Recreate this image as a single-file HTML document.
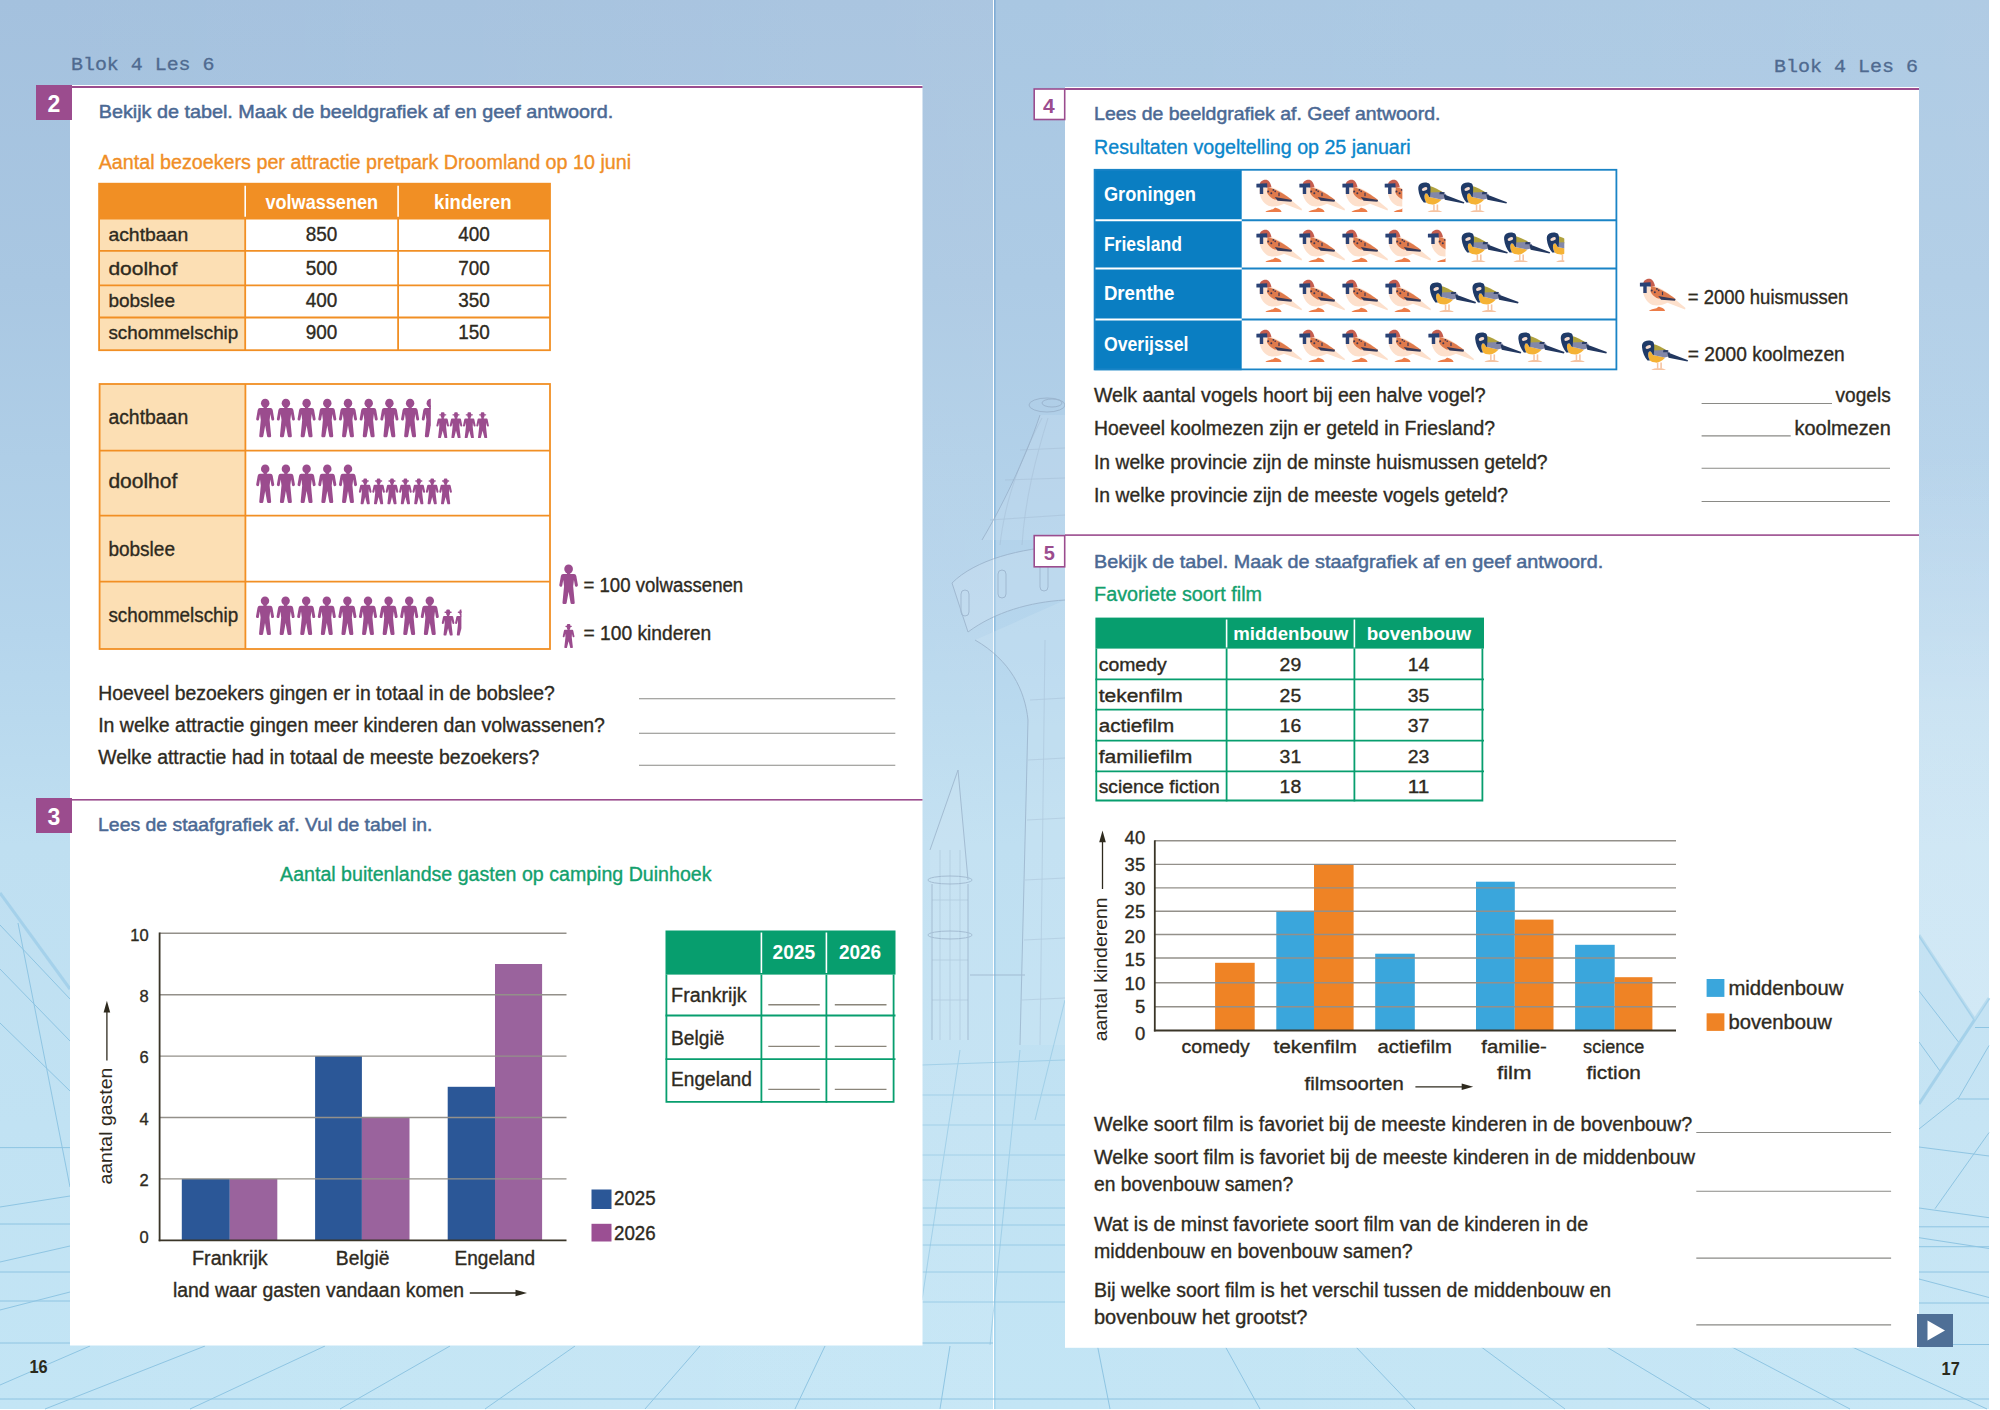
<!DOCTYPE html>
<html><head><meta charset="utf-8"><title>Blok 4 Les 6</title>
<style>html,body{margin:0;padding:0;background:#fff;width:2000px;height:1410px;overflow:hidden}
svg{display:block} text{font-family:"Liberation Sans",sans-serif} .mono{font-family:"Liberation Mono",monospace}</style>
</head><body>
<svg width="2000" height="1410" viewBox="0 0 2000 1410" font-family="Liberation Sans" fill="#2e2a1e">
<defs>
<linearGradient id="bgL" x1="0" y1="0" x2="0" y2="1">
  <stop offset="0" stop-color="#a4c1de"/><stop offset="0.2" stop-color="#a9c7e2"/><stop offset="0.45" stop-color="#b5d5ec"/><stop offset="0.6" stop-color="#bfdff1"/><stop offset="1" stop-color="#c3e5f5"/>
</linearGradient>
<linearGradient id="bgR" x1="0" y1="0" x2="0" y2="1">
  <stop offset="0" stop-color="#a9c7e2"/><stop offset="0.2" stop-color="#adcbe5"/><stop offset="0.45" stop-color="#b6d6ed"/><stop offset="0.6" stop-color="#bfdff1"/><stop offset="1" stop-color="#c3e5f5"/>
</linearGradient>
<linearGradient id="spine" x1="0" y1="0" x2="0" y2="1"><stop offset="0" stop-color="#7eabd4"/><stop offset="0.6" stop-color="#93c3e3"/><stop offset="1" stop-color="#aad8ef"/></linearGradient>
<linearGradient id="bgRx" x1="0" y1="0" x2="1" y2="0">
  <stop offset="0" stop-color="#ffffff" stop-opacity="0"/><stop offset="1" stop-color="#ffffff" stop-opacity="0.08"/>
</linearGradient>
</defs>
<rect x="0.00" y="0.00" width="993.00" height="1409.00" fill="url(#bgL)"/>
<rect x="994.00" y="0.00" width="995.00" height="1409.00" fill="url(#bgR)"/>
<rect x="0.00" y="0.00" width="993.00" height="1409.00" fill="url(#bgRx)"/>
<rect x="994.00" y="0.00" width="995.00" height="1409.00" fill="url(#bgRx)"/>
<rect x="994.00" y="0.00" width="1.60" height="1409.00" fill="url(#spine)"/>
<line x1="922.50" y1="1208.00" x2="1065.00" y2="1208.00" stroke="#8cc4e2" stroke-width="1" opacity="0.75"/>
<line x1="922.50" y1="1225.00" x2="1065.00" y2="1225.00" stroke="#8cc4e2" stroke-width="1" opacity="0.75"/>
<line x1="922.50" y1="1245.00" x2="1065.00" y2="1245.00" stroke="#8cc4e2" stroke-width="1" opacity="0.75"/>
<line x1="922.50" y1="1272.00" x2="1065.00" y2="1272.00" stroke="#8cc4e2" stroke-width="1" opacity="0.75"/>
<line x1="922.50" y1="1302.00" x2="1065.00" y2="1302.00" stroke="#8cc4e2" stroke-width="1" opacity="0.75"/>
<g stroke="#86c0e0" stroke-width="1" fill="none" opacity="0.85">
<line x1="0" y1="925" x2="70" y2="999"/>
<line x1="0" y1="969" x2="70" y2="1041"/>
<line x1="0" y1="1023" x2="70" y2="1091"/>
<line x1="0" y1="1147.6" x2="70" y2="1147.6"/>
<line x1="0" y1="1207" x2="70" y2="1196"/>
<line x1="0" y1="1224" x2="70" y2="1224"/>
<line x1="0" y1="1262" x2="70" y2="1246"/>
<line x1="0" y1="1272" x2="70" y2="1272"/>
<line x1="0" y1="1310" x2="70" y2="1292"/>
<line x1="0" y1="1301" x2="70" y2="1301"/>
<line x1="0" y1="1343" x2="993" y2="1343"/>
<line x1="0" y1="1399" x2="1989" y2="1399"/>
<line x1="18" y1="923" x2="70" y2="1187"/>
<line x1="90" y1="1346" x2="0" y2="1385"/>
<line x1="205" y1="1346" x2="45" y2="1409"/>
<line x1="325" y1="1346" x2="190" y2="1409"/>
<line x1="450" y1="1346" x2="340" y2="1409"/>
<line x1="575" y1="1346" x2="485" y2="1409"/>
<line x1="700" y1="1346" x2="645" y2="1409"/>
<line x1="825" y1="1346" x2="795" y2="1409"/>
<line x1="950" y1="1346" x2="940" y2="1409"/>
<line x1="1097.5" y1="1346" x2="1110" y2="1409"/>
<line x1="1225" y1="1346" x2="1260" y2="1409"/>
<line x1="1355" y1="1346" x2="1415" y2="1409"/>
<line x1="1480" y1="1346" x2="1565" y2="1409"/>
<line x1="1605" y1="1346" x2="1710" y2="1409"/>
<line x1="1730" y1="1346" x2="1850" y2="1409"/>
<line x1="1850" y1="1346" x2="1987" y2="1409"/>
<line x1="1919" y1="991" x2="1958.5" y2="1042"/>
<line x1="1919" y1="1042" x2="1940" y2="1071"/>
<line x1="1975" y1="1027.5" x2="1989" y2="1027.5"/>
<line x1="1919" y1="1129" x2="1958" y2="1098"/>
<line x1="1958" y1="1099" x2="1989" y2="1099"/>
<line x1="1958" y1="1099" x2="1989" y2="1045.6"/>
<line x1="1919" y1="1147" x2="1989" y2="1156"/>
<line x1="1935" y1="1208.7" x2="1989" y2="1132.6"/>
<line x1="1919" y1="1208" x2="1989" y2="1217.7"/>
<line x1="1919" y1="1226.8" x2="1989" y2="1226.8"/>
<line x1="1919" y1="1237.7" x2="1989" y2="1248.5"/>
<line x1="1919" y1="1246.7" x2="1989" y2="1246.7"/>
<line x1="1919" y1="1272" x2="1989" y2="1272"/>
<line x1="1919" y1="1279" x2="1989" y2="1297.5"/>
<line x1="1919" y1="1303" x2="1989" y2="1303"/>
<line x1="1919" y1="1344.5" x2="1989" y2="1344.5"/>
</g>
<g stroke="#9dcde8" stroke-width="3" fill="none" opacity="0.8"><line x1="0" y1="893" x2="70" y2="989"/><line x1="1919" y1="935" x2="1975" y2="1020"/><line x1="1919" y1="1104" x2="1989" y2="998"/></g>
<linearGradient id="rm" x1="0" y1="0" x2="0" y2="1"><stop offset="0" stop-color="#fff" stop-opacity="0"/><stop offset="0.45" stop-color="#fff" stop-opacity="0.2"/><stop offset="1" stop-color="#fff" stop-opacity="0.22"/></linearGradient>
<path d="M1919 450 L1989 450 L1989 998 L1975 1020 L1919 935 Z" fill="url(#rm)"/>
<path d="M0 850 L0 893 L70 989 L70 850 Z" fill="#ffffff" opacity="0.0"/>
<g opacity="0.5"><path d="M1040 415 C1025 460 1000 510 982 540 L1065 540 L1065 415 Z" fill="#d2e4f3" opacity="0.5"/><path d="M952 583 C975 560 1020 548 1065 546 L1065 600 C1030 602 995 612 968 632 Z" fill="#d2e4f3" opacity="0.6"/><path d="M975 640 C1010 660 1025 690 1028 720 L1020 1045 L1065 1045 L1065 600 Z" fill="#d6e9f5" opacity="0.5"/><path d="M930 850 L958 770 L968 880 L968 1040 L932 1040 Z" fill="#d6e9f5" opacity="0.4"/></g>
<g fill="none" stroke="#8ea5bf" stroke-width="1" opacity="0.6"><ellipse cx="1047" cy="405" rx="18" ry="7"/><ellipse cx="1052" cy="403" rx="10" ry="4"/><path d="M1040 415 C1025 460 1000 510 982 540"/><path d="M952 583 C975 560 1020 548 1065 546"/><path d="M968 632 C995 612 1030 602 1065 600"/><path d="M952 583 L968 632"/><rect x="961" y="590" width="8" height="26" rx="4"/><rect x="998" y="570" width="8" height="28" rx="4"/><rect x="1040" y="563" width="8" height="28" rx="4"/><path d="M975 640 C1010 660 1025 690 1028 720 L1020 1045"/><path d="M958 770 L930 850"/><path d="M958 770 L968 880"/><ellipse cx="950" cy="880" rx="22" ry="4"/><ellipse cx="950" cy="935" rx="22" ry="4"/><path d="M932 884 L932 1040"/><path d="M968 884 L968 1040"/><path d="M970 975 L1025 975"/></g>
<g fill="none" stroke="#9cb3cb" stroke-width="0.7" opacity="0.5"><path d="M1000 545 C1005 500 1020 460 1042 418"/><path d="M1022 545 C1025 500 1035 460 1048 418"/><path d="M990 520 L1065 515"/><path d="M1005 480 L1065 478"/><path d="M1020 450 L1065 448"/><path d="M1030 700 L1065 698"/><path d="M1028 760 L1065 758"/><path d="M1027 820 L1065 818"/><path d="M1025 880 L1065 878"/><path d="M1024 940 L1065 938"/><path d="M1022 1000 L1065 998"/><path d="M1045 640 L1040 1045"/><path d="M940 850 L940 1040"/><path d="M950 850 L950 1040"/><path d="M960 850 L960 1040"/><path d="M932 900 L968 900"/><path d="M932 960 L968 960"/><path d="M932 1000 L968 1000"/></g>
<g stroke="#8cc4e2" stroke-width="1" opacity="0.6"><line x1="922" y1="1065" x2="1065" y2="1060"/><line x1="922" y1="1095" x2="1065" y2="1095"/><line x1="922" y1="1125" x2="1065" y2="1125"/><line x1="922" y1="1155" x2="1065" y2="1155"/><line x1="922" y1="1180" x2="1065" y2="1180"/><line x1="960" y1="1050" x2="922" y2="1300"/><line x1="1020" y1="1050" x2="990" y2="1345"/><line x1="1065" y1="1000" x2="1035" y2="1120"/></g>
<rect x="70.00" y="85.00" width="852.50" height="1260.50" fill="#fff"/>
<rect x="1065.00" y="87.00" width="854.00" height="1260.80" fill="#fff"/>
<rect x="70.00" y="86.00" width="852.50" height="2.00" fill="#9b4c8e"/>
<rect x="70.00" y="799.00" width="852.50" height="1.60" fill="#9b4c8e"/>
<rect x="1065.00" y="88.00" width="854.00" height="2.00" fill="#9b4c8e"/>
<rect x="1065.00" y="534.30" width="854.00" height="1.60" fill="#9b4c8e"/>
<rect x="36.00" y="85.00" width="36.00" height="35.00" fill="#9b4c8e"/>
<rect x="36.00" y="798.00" width="36.00" height="35.00" fill="#9b4c8e"/>
<text x="54.00" y="112.00" font-size="23" fill="#fff" font-weight="bold" text-anchor="middle">2</text>
<text x="54.00" y="825.00" font-size="23" fill="#fff" font-weight="bold" text-anchor="middle">3</text>
<rect x="1034.2" y="89" width="30.5" height="30.5" fill="#fff" stroke="#9b4c8e" stroke-width="1.6"/>
<rect x="1034.2" y="535.6" width="30.5" height="31.2" fill="#fff" stroke="#9b4c8e" stroke-width="1.6"/>
<text x="1048.80" y="113.20" font-size="21" fill="#9b4c8e" font-weight="bold" text-anchor="middle">4</text>
<text x="1049.30" y="560.00" font-size="20" fill="#9b4c8e" font-weight="bold" text-anchor="middle">5</text>
<text x="71.00" y="70.00" font-size="19" fill="#4f6a90" font-family="Liberation Mono" stroke="#4f6a90" stroke-width="0.3" textLength="143.50" lengthAdjust="spacingAndGlyphs" class="mono">Blok 4 Les 6</text>
<text x="1774.00" y="72.30" font-size="19" fill="#4f6a90" font-family="Liberation Mono" stroke="#4f6a90" stroke-width="0.3" textLength="144.00" lengthAdjust="spacingAndGlyphs" class="mono">Blok 4 Les 6</text>
<text x="29.40" y="1373.00" font-size="18" fill="#2a2a1c" font-weight="bold" textLength="18.20" lengthAdjust="spacingAndGlyphs">16</text>
<text x="1941.60" y="1375.00" font-size="18" fill="#2a2a1c" font-weight="bold" textLength="18.10" lengthAdjust="spacingAndGlyphs">17</text>
<rect x="1917.00" y="1314.00" width="36.00" height="33.00" fill="#4f6f96"/>
<path d="M1927.5 1320.5 L1945 1330.5 L1927.5 1340.5 Z" fill="#fff"/>
<text x="98.70" y="118.40" font-size="19" fill="#4b6994" stroke="#4b6994" stroke-width="0.5" textLength="514.50" lengthAdjust="spacingAndGlyphs">Bekijk de tabel. Maak de beeldgrafiek af en geef antwoord.</text>
<text x="98.70" y="168.70" font-size="19.5" fill="#f08e26" stroke="#f08e26" stroke-width="0.35" textLength="532.40" lengthAdjust="spacingAndGlyphs">Aantal bezoekers per attractie pretpark Droomland op 10 juni</text>
<rect x="99.10" y="183.70" width="450.90" height="34.90" fill="#f18f24"/>
<rect x="99.10" y="218.60" width="146.10" height="131.60" fill="#fcdfb4"/>
<line x1="99.10" y1="218.60" x2="550.00" y2="218.60" stroke="#f18f24" stroke-width="1.8"/>
<line x1="99.10" y1="250.80" x2="550.00" y2="250.80" stroke="#f18f24" stroke-width="1.8"/>
<line x1="99.10" y1="285.30" x2="550.00" y2="285.30" stroke="#f18f24" stroke-width="1.8"/>
<line x1="99.10" y1="317.50" x2="550.00" y2="317.50" stroke="#f18f24" stroke-width="1.8"/>
<line x1="245.20" y1="218.60" x2="245.20" y2="350.20" stroke="#f18f24" stroke-width="1.8"/>
<line x1="398.10" y1="218.60" x2="398.10" y2="350.20" stroke="#f18f24" stroke-width="1.8"/>
<line x1="245.20" y1="185.80" x2="245.20" y2="216.80" stroke="#fff" stroke-width="1.6"/>
<line x1="398.10" y1="185.80" x2="398.10" y2="216.80" stroke="#fff" stroke-width="1.6"/>
<rect x="99.1" y="183.7" width="450.9" height="166.5" fill="none" stroke="#f18f24" stroke-width="1.8"/>
<text x="265.40" y="208.70" font-size="19.5" fill="#fff" font-weight="bold" textLength="112.70" lengthAdjust="spacingAndGlyphs">volwassenen</text>
<text x="434.10" y="208.70" font-size="19.5" fill="#fff" font-weight="bold" textLength="77.40" lengthAdjust="spacingAndGlyphs">kinderen</text>
<text x="108.40" y="241.00" font-size="19" stroke="#2e2a1e" stroke-width="0.35" textLength="79.80" lengthAdjust="spacingAndGlyphs">achtbaan</text>
<text x="305.70" y="241.00" font-size="19.5" stroke="#2e2a1e" stroke-width="0.35" textLength="31.60" lengthAdjust="spacingAndGlyphs">850</text>
<text x="458.20" y="241.00" font-size="19.5" stroke="#2e2a1e" stroke-width="0.35" textLength="31.60" lengthAdjust="spacingAndGlyphs">400</text>
<text x="108.40" y="274.80" font-size="19" stroke="#2e2a1e" stroke-width="0.35" textLength="68.90" lengthAdjust="spacingAndGlyphs">doolhof</text>
<text x="305.70" y="274.80" font-size="19.5" stroke="#2e2a1e" stroke-width="0.35" textLength="31.60" lengthAdjust="spacingAndGlyphs">500</text>
<text x="458.20" y="274.80" font-size="19.5" stroke="#2e2a1e" stroke-width="0.35" textLength="31.60" lengthAdjust="spacingAndGlyphs">700</text>
<text x="108.40" y="307.20" font-size="19" stroke="#2e2a1e" stroke-width="0.35" textLength="66.60" lengthAdjust="spacingAndGlyphs">bobslee</text>
<text x="305.70" y="307.20" font-size="19.5" stroke="#2e2a1e" stroke-width="0.35" textLength="31.60" lengthAdjust="spacingAndGlyphs">400</text>
<text x="458.20" y="307.20" font-size="19.5" stroke="#2e2a1e" stroke-width="0.35" textLength="31.60" lengthAdjust="spacingAndGlyphs">350</text>
<text x="108.40" y="339.40" font-size="19" stroke="#2e2a1e" stroke-width="0.35" textLength="129.90" lengthAdjust="spacingAndGlyphs">schommelschip</text>
<text x="305.70" y="339.40" font-size="19.5" stroke="#2e2a1e" stroke-width="0.35" textLength="31.60" lengthAdjust="spacingAndGlyphs">900</text>
<text x="458.20" y="339.40" font-size="19.5" stroke="#2e2a1e" stroke-width="0.35" textLength="31.60" lengthAdjust="spacingAndGlyphs">150</text>
<defs>
<clipPath id="lefthalf"><rect x="-20" y="-5" width="20" height="50"/></clipPath>
</defs>
<rect x="99.60" y="384.00" width="145.80" height="265.00" fill="#fcdfb4"/>
<line x1="99.60" y1="450.60" x2="550.00" y2="450.60" stroke="#f18f24" stroke-width="1.8"/>
<line x1="99.60" y1="515.70" x2="550.00" y2="515.70" stroke="#f18f24" stroke-width="1.8"/>
<line x1="99.60" y1="581.60" x2="550.00" y2="581.60" stroke="#f18f24" stroke-width="1.8"/>
<line x1="245.40" y1="384.00" x2="245.40" y2="649.00" stroke="#f18f24" stroke-width="1.8"/>
<rect x="99.6" y="384" width="450.4" height="265" fill="none" stroke="#f18f24" stroke-width="1.8"/>
<text x="108.40" y="423.70" font-size="19.5" stroke="#2e2a1e" stroke-width="0.35" textLength="79.80" lengthAdjust="spacingAndGlyphs">achtbaan</text>
<text x="108.40" y="488.10" font-size="19.5" stroke="#2e2a1e" stroke-width="0.35" textLength="68.90" lengthAdjust="spacingAndGlyphs">doolhof</text>
<text x="108.40" y="555.50" font-size="19.5" stroke="#2e2a1e" stroke-width="0.35" textLength="66.60" lengthAdjust="spacingAndGlyphs">bobslee</text>
<text x="108.40" y="622.20" font-size="19.5" stroke="#2e2a1e" stroke-width="0.35" textLength="129.90" lengthAdjust="spacingAndGlyphs">schommelschip</text>
<g transform="translate(265.20,398.90) scale(0.960,1.000)" fill="#9b4c8e"><g><circle cx="0" cy="4.3" r="4.4"/>
<rect x="-1.7" y="6.5" width="3.4" height="3.5"/>
<path d="M-5.6 9.2 L5.6 9.2 Q7.4 9.4 7.8 11.2 L9.4 20 Q9.5 21.3 8.3 21.5 L7.6 21.6 Q6.6 21.6 6.4 20.4 L5.4 15 L4.6 21 L6.2 37.2 Q6.2 38.4 5 38.4 L3.2 38.4 Q2.2 38.4 2 37.4 L0 26.5 L-2 37.4 Q-2.2 38.4 -3.2 38.4 L-5 38.4 Q-6.2 38.4 -6.2 37.2 L-4.6 21 L-5.4 15 L-6.4 20.4 Q-6.6 21.6 -7.6 21.6 L-8.3 21.5 Q-9.5 21.3 -9.4 20 L-7.8 11.2 Q-7.4 9.4 -5.6 9.2 Z"/></g></g>
<g transform="translate(285.90,398.90) scale(0.960,1.000)" fill="#9b4c8e"><g><circle cx="0" cy="4.3" r="4.4"/>
<rect x="-1.7" y="6.5" width="3.4" height="3.5"/>
<path d="M-5.6 9.2 L5.6 9.2 Q7.4 9.4 7.8 11.2 L9.4 20 Q9.5 21.3 8.3 21.5 L7.6 21.6 Q6.6 21.6 6.4 20.4 L5.4 15 L4.6 21 L6.2 37.2 Q6.2 38.4 5 38.4 L3.2 38.4 Q2.2 38.4 2 37.4 L0 26.5 L-2 37.4 Q-2.2 38.4 -3.2 38.4 L-5 38.4 Q-6.2 38.4 -6.2 37.2 L-4.6 21 L-5.4 15 L-6.4 20.4 Q-6.6 21.6 -7.6 21.6 L-8.3 21.5 Q-9.5 21.3 -9.4 20 L-7.8 11.2 Q-7.4 9.4 -5.6 9.2 Z"/></g></g>
<g transform="translate(306.60,398.90) scale(0.960,1.000)" fill="#9b4c8e"><g><circle cx="0" cy="4.3" r="4.4"/>
<rect x="-1.7" y="6.5" width="3.4" height="3.5"/>
<path d="M-5.6 9.2 L5.6 9.2 Q7.4 9.4 7.8 11.2 L9.4 20 Q9.5 21.3 8.3 21.5 L7.6 21.6 Q6.6 21.6 6.4 20.4 L5.4 15 L4.6 21 L6.2 37.2 Q6.2 38.4 5 38.4 L3.2 38.4 Q2.2 38.4 2 37.4 L0 26.5 L-2 37.4 Q-2.2 38.4 -3.2 38.4 L-5 38.4 Q-6.2 38.4 -6.2 37.2 L-4.6 21 L-5.4 15 L-6.4 20.4 Q-6.6 21.6 -7.6 21.6 L-8.3 21.5 Q-9.5 21.3 -9.4 20 L-7.8 11.2 Q-7.4 9.4 -5.6 9.2 Z"/></g></g>
<g transform="translate(327.30,398.90) scale(0.960,1.000)" fill="#9b4c8e"><g><circle cx="0" cy="4.3" r="4.4"/>
<rect x="-1.7" y="6.5" width="3.4" height="3.5"/>
<path d="M-5.6 9.2 L5.6 9.2 Q7.4 9.4 7.8 11.2 L9.4 20 Q9.5 21.3 8.3 21.5 L7.6 21.6 Q6.6 21.6 6.4 20.4 L5.4 15 L4.6 21 L6.2 37.2 Q6.2 38.4 5 38.4 L3.2 38.4 Q2.2 38.4 2 37.4 L0 26.5 L-2 37.4 Q-2.2 38.4 -3.2 38.4 L-5 38.4 Q-6.2 38.4 -6.2 37.2 L-4.6 21 L-5.4 15 L-6.4 20.4 Q-6.6 21.6 -7.6 21.6 L-8.3 21.5 Q-9.5 21.3 -9.4 20 L-7.8 11.2 Q-7.4 9.4 -5.6 9.2 Z"/></g></g>
<g transform="translate(348.00,398.90) scale(0.960,1.000)" fill="#9b4c8e"><g><circle cx="0" cy="4.3" r="4.4"/>
<rect x="-1.7" y="6.5" width="3.4" height="3.5"/>
<path d="M-5.6 9.2 L5.6 9.2 Q7.4 9.4 7.8 11.2 L9.4 20 Q9.5 21.3 8.3 21.5 L7.6 21.6 Q6.6 21.6 6.4 20.4 L5.4 15 L4.6 21 L6.2 37.2 Q6.2 38.4 5 38.4 L3.2 38.4 Q2.2 38.4 2 37.4 L0 26.5 L-2 37.4 Q-2.2 38.4 -3.2 38.4 L-5 38.4 Q-6.2 38.4 -6.2 37.2 L-4.6 21 L-5.4 15 L-6.4 20.4 Q-6.6 21.6 -7.6 21.6 L-8.3 21.5 Q-9.5 21.3 -9.4 20 L-7.8 11.2 Q-7.4 9.4 -5.6 9.2 Z"/></g></g>
<g transform="translate(368.70,398.90) scale(0.960,1.000)" fill="#9b4c8e"><g><circle cx="0" cy="4.3" r="4.4"/>
<rect x="-1.7" y="6.5" width="3.4" height="3.5"/>
<path d="M-5.6 9.2 L5.6 9.2 Q7.4 9.4 7.8 11.2 L9.4 20 Q9.5 21.3 8.3 21.5 L7.6 21.6 Q6.6 21.6 6.4 20.4 L5.4 15 L4.6 21 L6.2 37.2 Q6.2 38.4 5 38.4 L3.2 38.4 Q2.2 38.4 2 37.4 L0 26.5 L-2 37.4 Q-2.2 38.4 -3.2 38.4 L-5 38.4 Q-6.2 38.4 -6.2 37.2 L-4.6 21 L-5.4 15 L-6.4 20.4 Q-6.6 21.6 -7.6 21.6 L-8.3 21.5 Q-9.5 21.3 -9.4 20 L-7.8 11.2 Q-7.4 9.4 -5.6 9.2 Z"/></g></g>
<g transform="translate(389.40,398.90) scale(0.960,1.000)" fill="#9b4c8e"><g><circle cx="0" cy="4.3" r="4.4"/>
<rect x="-1.7" y="6.5" width="3.4" height="3.5"/>
<path d="M-5.6 9.2 L5.6 9.2 Q7.4 9.4 7.8 11.2 L9.4 20 Q9.5 21.3 8.3 21.5 L7.6 21.6 Q6.6 21.6 6.4 20.4 L5.4 15 L4.6 21 L6.2 37.2 Q6.2 38.4 5 38.4 L3.2 38.4 Q2.2 38.4 2 37.4 L0 26.5 L-2 37.4 Q-2.2 38.4 -3.2 38.4 L-5 38.4 Q-6.2 38.4 -6.2 37.2 L-4.6 21 L-5.4 15 L-6.4 20.4 Q-6.6 21.6 -7.6 21.6 L-8.3 21.5 Q-9.5 21.3 -9.4 20 L-7.8 11.2 Q-7.4 9.4 -5.6 9.2 Z"/></g></g>
<g transform="translate(410.10,398.90) scale(0.960,1.000)" fill="#9b4c8e"><g><circle cx="0" cy="4.3" r="4.4"/>
<rect x="-1.7" y="6.5" width="3.4" height="3.5"/>
<path d="M-5.6 9.2 L5.6 9.2 Q7.4 9.4 7.8 11.2 L9.4 20 Q9.5 21.3 8.3 21.5 L7.6 21.6 Q6.6 21.6 6.4 20.4 L5.4 15 L4.6 21 L6.2 37.2 Q6.2 38.4 5 38.4 L3.2 38.4 Q2.2 38.4 2 37.4 L0 26.5 L-2 37.4 Q-2.2 38.4 -3.2 38.4 L-5 38.4 Q-6.2 38.4 -6.2 37.2 L-4.6 21 L-5.4 15 L-6.4 20.4 Q-6.6 21.6 -7.6 21.6 L-8.3 21.5 Q-9.5 21.3 -9.4 20 L-7.8 11.2 Q-7.4 9.4 -5.6 9.2 Z"/></g></g>
<g transform="translate(430.80,398.90) scale(0.960,1.000)" fill="#9b4c8e"><g clip-path="url(#lefthalf)"><circle cx="0" cy="4.3" r="4.4"/>
<rect x="-1.7" y="6.5" width="3.4" height="3.5"/>
<path d="M-5.6 9.2 L5.6 9.2 Q7.4 9.4 7.8 11.2 L9.4 20 Q9.5 21.3 8.3 21.5 L7.6 21.6 Q6.6 21.6 6.4 20.4 L5.4 15 L4.6 21 L6.2 37.2 Q6.2 38.4 5 38.4 L3.2 38.4 Q2.2 38.4 2 37.4 L0 26.5 L-2 37.4 Q-2.2 38.4 -3.2 38.4 L-5 38.4 Q-6.2 38.4 -6.2 37.2 L-4.6 21 L-5.4 15 L-6.4 20.4 Q-6.6 21.6 -7.6 21.6 L-8.3 21.5 Q-9.5 21.3 -9.4 20 L-7.8 11.2 Q-7.4 9.4 -5.6 9.2 Z"/></g></g>
<g transform="translate(442.70,412.20) scale(1.000)" fill="#9b4c8e"><g><rect x="-1.8" y="0" width="3.6" height="2.8" rx="1"/>
<ellipse cx="0" cy="2.6" rx="3.7" ry="0.9"/>
<circle cx="0" cy="3.9" r="2.0"/>
<rect x="-1.2" y="5" width="2.4" height="2"/>
<path d="M-4 6.4 L4 6.4 Q4.9 6.5 5.1 7.5 L6.3 13.2 Q6.4 14.2 5.6 14.3 L5 14.3 Q4.5 14.3 4.3 13.6 L3.6 10.5 L3.4 14.5 L4.6 25.2 Q4.6 25.9 3.9 25.9 L2.4 25.9 Q1.8 25.9 1.7 25.3 L0 18.6 L-1.7 25.3 Q-1.8 25.9 -2.4 25.9 L-3.9 25.9 Q-4.6 25.9 -4.6 25.2 L-3.4 14.5 L-3.6 10.5 L-4.3 13.6 Q-4.5 14.3 -5 14.3 L-5.6 14.3 Q-6.4 14.2 -6.3 13.2 L-5.1 7.5 Q-4.9 6.5 -4 6.4 Z"/></g></g>
<g transform="translate(456.00,412.20) scale(1.000)" fill="#9b4c8e"><g><rect x="-1.8" y="0" width="3.6" height="2.8" rx="1"/>
<ellipse cx="0" cy="2.6" rx="3.7" ry="0.9"/>
<circle cx="0" cy="3.9" r="2.0"/>
<rect x="-1.2" y="5" width="2.4" height="2"/>
<path d="M-4 6.4 L4 6.4 Q4.9 6.5 5.1 7.5 L6.3 13.2 Q6.4 14.2 5.6 14.3 L5 14.3 Q4.5 14.3 4.3 13.6 L3.6 10.5 L3.4 14.5 L4.6 25.2 Q4.6 25.9 3.9 25.9 L2.4 25.9 Q1.8 25.9 1.7 25.3 L0 18.6 L-1.7 25.3 Q-1.8 25.9 -2.4 25.9 L-3.9 25.9 Q-4.6 25.9 -4.6 25.2 L-3.4 14.5 L-3.6 10.5 L-4.3 13.6 Q-4.5 14.3 -5 14.3 L-5.6 14.3 Q-6.4 14.2 -6.3 13.2 L-5.1 7.5 Q-4.9 6.5 -4 6.4 Z"/></g></g>
<g transform="translate(469.30,412.20) scale(1.000)" fill="#9b4c8e"><g><rect x="-1.8" y="0" width="3.6" height="2.8" rx="1"/>
<ellipse cx="0" cy="2.6" rx="3.7" ry="0.9"/>
<circle cx="0" cy="3.9" r="2.0"/>
<rect x="-1.2" y="5" width="2.4" height="2"/>
<path d="M-4 6.4 L4 6.4 Q4.9 6.5 5.1 7.5 L6.3 13.2 Q6.4 14.2 5.6 14.3 L5 14.3 Q4.5 14.3 4.3 13.6 L3.6 10.5 L3.4 14.5 L4.6 25.2 Q4.6 25.9 3.9 25.9 L2.4 25.9 Q1.8 25.9 1.7 25.3 L0 18.6 L-1.7 25.3 Q-1.8 25.9 -2.4 25.9 L-3.9 25.9 Q-4.6 25.9 -4.6 25.2 L-3.4 14.5 L-3.6 10.5 L-4.3 13.6 Q-4.5 14.3 -5 14.3 L-5.6 14.3 Q-6.4 14.2 -6.3 13.2 L-5.1 7.5 Q-4.9 6.5 -4 6.4 Z"/></g></g>
<g transform="translate(482.60,412.20) scale(1.000)" fill="#9b4c8e"><g><rect x="-1.8" y="0" width="3.6" height="2.8" rx="1"/>
<ellipse cx="0" cy="2.6" rx="3.7" ry="0.9"/>
<circle cx="0" cy="3.9" r="2.0"/>
<rect x="-1.2" y="5" width="2.4" height="2"/>
<path d="M-4 6.4 L4 6.4 Q4.9 6.5 5.1 7.5 L6.3 13.2 Q6.4 14.2 5.6 14.3 L5 14.3 Q4.5 14.3 4.3 13.6 L3.6 10.5 L3.4 14.5 L4.6 25.2 Q4.6 25.9 3.9 25.9 L2.4 25.9 Q1.8 25.9 1.7 25.3 L0 18.6 L-1.7 25.3 Q-1.8 25.9 -2.4 25.9 L-3.9 25.9 Q-4.6 25.9 -4.6 25.2 L-3.4 14.5 L-3.6 10.5 L-4.3 13.6 Q-4.5 14.3 -5 14.3 L-5.6 14.3 Q-6.4 14.2 -6.3 13.2 L-5.1 7.5 Q-4.9 6.5 -4 6.4 Z"/></g></g>
<g transform="translate(265.20,464.60) scale(0.960,1.000)" fill="#9b4c8e"><g><circle cx="0" cy="4.3" r="4.4"/>
<rect x="-1.7" y="6.5" width="3.4" height="3.5"/>
<path d="M-5.6 9.2 L5.6 9.2 Q7.4 9.4 7.8 11.2 L9.4 20 Q9.5 21.3 8.3 21.5 L7.6 21.6 Q6.6 21.6 6.4 20.4 L5.4 15 L4.6 21 L6.2 37.2 Q6.2 38.4 5 38.4 L3.2 38.4 Q2.2 38.4 2 37.4 L0 26.5 L-2 37.4 Q-2.2 38.4 -3.2 38.4 L-5 38.4 Q-6.2 38.4 -6.2 37.2 L-4.6 21 L-5.4 15 L-6.4 20.4 Q-6.6 21.6 -7.6 21.6 L-8.3 21.5 Q-9.5 21.3 -9.4 20 L-7.8 11.2 Q-7.4 9.4 -5.6 9.2 Z"/></g></g>
<g transform="translate(285.90,464.60) scale(0.960,1.000)" fill="#9b4c8e"><g><circle cx="0" cy="4.3" r="4.4"/>
<rect x="-1.7" y="6.5" width="3.4" height="3.5"/>
<path d="M-5.6 9.2 L5.6 9.2 Q7.4 9.4 7.8 11.2 L9.4 20 Q9.5 21.3 8.3 21.5 L7.6 21.6 Q6.6 21.6 6.4 20.4 L5.4 15 L4.6 21 L6.2 37.2 Q6.2 38.4 5 38.4 L3.2 38.4 Q2.2 38.4 2 37.4 L0 26.5 L-2 37.4 Q-2.2 38.4 -3.2 38.4 L-5 38.4 Q-6.2 38.4 -6.2 37.2 L-4.6 21 L-5.4 15 L-6.4 20.4 Q-6.6 21.6 -7.6 21.6 L-8.3 21.5 Q-9.5 21.3 -9.4 20 L-7.8 11.2 Q-7.4 9.4 -5.6 9.2 Z"/></g></g>
<g transform="translate(306.60,464.60) scale(0.960,1.000)" fill="#9b4c8e"><g><circle cx="0" cy="4.3" r="4.4"/>
<rect x="-1.7" y="6.5" width="3.4" height="3.5"/>
<path d="M-5.6 9.2 L5.6 9.2 Q7.4 9.4 7.8 11.2 L9.4 20 Q9.5 21.3 8.3 21.5 L7.6 21.6 Q6.6 21.6 6.4 20.4 L5.4 15 L4.6 21 L6.2 37.2 Q6.2 38.4 5 38.4 L3.2 38.4 Q2.2 38.4 2 37.4 L0 26.5 L-2 37.4 Q-2.2 38.4 -3.2 38.4 L-5 38.4 Q-6.2 38.4 -6.2 37.2 L-4.6 21 L-5.4 15 L-6.4 20.4 Q-6.6 21.6 -7.6 21.6 L-8.3 21.5 Q-9.5 21.3 -9.4 20 L-7.8 11.2 Q-7.4 9.4 -5.6 9.2 Z"/></g></g>
<g transform="translate(327.30,464.60) scale(0.960,1.000)" fill="#9b4c8e"><g><circle cx="0" cy="4.3" r="4.4"/>
<rect x="-1.7" y="6.5" width="3.4" height="3.5"/>
<path d="M-5.6 9.2 L5.6 9.2 Q7.4 9.4 7.8 11.2 L9.4 20 Q9.5 21.3 8.3 21.5 L7.6 21.6 Q6.6 21.6 6.4 20.4 L5.4 15 L4.6 21 L6.2 37.2 Q6.2 38.4 5 38.4 L3.2 38.4 Q2.2 38.4 2 37.4 L0 26.5 L-2 37.4 Q-2.2 38.4 -3.2 38.4 L-5 38.4 Q-6.2 38.4 -6.2 37.2 L-4.6 21 L-5.4 15 L-6.4 20.4 Q-6.6 21.6 -7.6 21.6 L-8.3 21.5 Q-9.5 21.3 -9.4 20 L-7.8 11.2 Q-7.4 9.4 -5.6 9.2 Z"/></g></g>
<g transform="translate(348.00,464.60) scale(0.960,1.000)" fill="#9b4c8e"><g><circle cx="0" cy="4.3" r="4.4"/>
<rect x="-1.7" y="6.5" width="3.4" height="3.5"/>
<path d="M-5.6 9.2 L5.6 9.2 Q7.4 9.4 7.8 11.2 L9.4 20 Q9.5 21.3 8.3 21.5 L7.6 21.6 Q6.6 21.6 6.4 20.4 L5.4 15 L4.6 21 L6.2 37.2 Q6.2 38.4 5 38.4 L3.2 38.4 Q2.2 38.4 2 37.4 L0 26.5 L-2 37.4 Q-2.2 38.4 -3.2 38.4 L-5 38.4 Q-6.2 38.4 -6.2 37.2 L-4.6 21 L-5.4 15 L-6.4 20.4 Q-6.6 21.6 -7.6 21.6 L-8.3 21.5 Q-9.5 21.3 -9.4 20 L-7.8 11.2 Q-7.4 9.4 -5.6 9.2 Z"/></g></g>
<g transform="translate(365.20,478.40) scale(1.000)" fill="#9b4c8e"><g><rect x="-1.8" y="0" width="3.6" height="2.8" rx="1"/>
<ellipse cx="0" cy="2.6" rx="3.7" ry="0.9"/>
<circle cx="0" cy="3.9" r="2.0"/>
<rect x="-1.2" y="5" width="2.4" height="2"/>
<path d="M-4 6.4 L4 6.4 Q4.9 6.5 5.1 7.5 L6.3 13.2 Q6.4 14.2 5.6 14.3 L5 14.3 Q4.5 14.3 4.3 13.6 L3.6 10.5 L3.4 14.5 L4.6 25.2 Q4.6 25.9 3.9 25.9 L2.4 25.9 Q1.8 25.9 1.7 25.3 L0 18.6 L-1.7 25.3 Q-1.8 25.9 -2.4 25.9 L-3.9 25.9 Q-4.6 25.9 -4.6 25.2 L-3.4 14.5 L-3.6 10.5 L-4.3 13.6 Q-4.5 14.3 -5 14.3 L-5.6 14.3 Q-6.4 14.2 -6.3 13.2 L-5.1 7.5 Q-4.9 6.5 -4 6.4 Z"/></g></g>
<g transform="translate(378.60,478.40) scale(1.000)" fill="#9b4c8e"><g><rect x="-1.8" y="0" width="3.6" height="2.8" rx="1"/>
<ellipse cx="0" cy="2.6" rx="3.7" ry="0.9"/>
<circle cx="0" cy="3.9" r="2.0"/>
<rect x="-1.2" y="5" width="2.4" height="2"/>
<path d="M-4 6.4 L4 6.4 Q4.9 6.5 5.1 7.5 L6.3 13.2 Q6.4 14.2 5.6 14.3 L5 14.3 Q4.5 14.3 4.3 13.6 L3.6 10.5 L3.4 14.5 L4.6 25.2 Q4.6 25.9 3.9 25.9 L2.4 25.9 Q1.8 25.9 1.7 25.3 L0 18.6 L-1.7 25.3 Q-1.8 25.9 -2.4 25.9 L-3.9 25.9 Q-4.6 25.9 -4.6 25.2 L-3.4 14.5 L-3.6 10.5 L-4.3 13.6 Q-4.5 14.3 -5 14.3 L-5.6 14.3 Q-6.4 14.2 -6.3 13.2 L-5.1 7.5 Q-4.9 6.5 -4 6.4 Z"/></g></g>
<g transform="translate(392.00,478.40) scale(1.000)" fill="#9b4c8e"><g><rect x="-1.8" y="0" width="3.6" height="2.8" rx="1"/>
<ellipse cx="0" cy="2.6" rx="3.7" ry="0.9"/>
<circle cx="0" cy="3.9" r="2.0"/>
<rect x="-1.2" y="5" width="2.4" height="2"/>
<path d="M-4 6.4 L4 6.4 Q4.9 6.5 5.1 7.5 L6.3 13.2 Q6.4 14.2 5.6 14.3 L5 14.3 Q4.5 14.3 4.3 13.6 L3.6 10.5 L3.4 14.5 L4.6 25.2 Q4.6 25.9 3.9 25.9 L2.4 25.9 Q1.8 25.9 1.7 25.3 L0 18.6 L-1.7 25.3 Q-1.8 25.9 -2.4 25.9 L-3.9 25.9 Q-4.6 25.9 -4.6 25.2 L-3.4 14.5 L-3.6 10.5 L-4.3 13.6 Q-4.5 14.3 -5 14.3 L-5.6 14.3 Q-6.4 14.2 -6.3 13.2 L-5.1 7.5 Q-4.9 6.5 -4 6.4 Z"/></g></g>
<g transform="translate(405.40,478.40) scale(1.000)" fill="#9b4c8e"><g><rect x="-1.8" y="0" width="3.6" height="2.8" rx="1"/>
<ellipse cx="0" cy="2.6" rx="3.7" ry="0.9"/>
<circle cx="0" cy="3.9" r="2.0"/>
<rect x="-1.2" y="5" width="2.4" height="2"/>
<path d="M-4 6.4 L4 6.4 Q4.9 6.5 5.1 7.5 L6.3 13.2 Q6.4 14.2 5.6 14.3 L5 14.3 Q4.5 14.3 4.3 13.6 L3.6 10.5 L3.4 14.5 L4.6 25.2 Q4.6 25.9 3.9 25.9 L2.4 25.9 Q1.8 25.9 1.7 25.3 L0 18.6 L-1.7 25.3 Q-1.8 25.9 -2.4 25.9 L-3.9 25.9 Q-4.6 25.9 -4.6 25.2 L-3.4 14.5 L-3.6 10.5 L-4.3 13.6 Q-4.5 14.3 -5 14.3 L-5.6 14.3 Q-6.4 14.2 -6.3 13.2 L-5.1 7.5 Q-4.9 6.5 -4 6.4 Z"/></g></g>
<g transform="translate(418.80,478.40) scale(1.000)" fill="#9b4c8e"><g><rect x="-1.8" y="0" width="3.6" height="2.8" rx="1"/>
<ellipse cx="0" cy="2.6" rx="3.7" ry="0.9"/>
<circle cx="0" cy="3.9" r="2.0"/>
<rect x="-1.2" y="5" width="2.4" height="2"/>
<path d="M-4 6.4 L4 6.4 Q4.9 6.5 5.1 7.5 L6.3 13.2 Q6.4 14.2 5.6 14.3 L5 14.3 Q4.5 14.3 4.3 13.6 L3.6 10.5 L3.4 14.5 L4.6 25.2 Q4.6 25.9 3.9 25.9 L2.4 25.9 Q1.8 25.9 1.7 25.3 L0 18.6 L-1.7 25.3 Q-1.8 25.9 -2.4 25.9 L-3.9 25.9 Q-4.6 25.9 -4.6 25.2 L-3.4 14.5 L-3.6 10.5 L-4.3 13.6 Q-4.5 14.3 -5 14.3 L-5.6 14.3 Q-6.4 14.2 -6.3 13.2 L-5.1 7.5 Q-4.9 6.5 -4 6.4 Z"/></g></g>
<g transform="translate(432.20,478.40) scale(1.000)" fill="#9b4c8e"><g><rect x="-1.8" y="0" width="3.6" height="2.8" rx="1"/>
<ellipse cx="0" cy="2.6" rx="3.7" ry="0.9"/>
<circle cx="0" cy="3.9" r="2.0"/>
<rect x="-1.2" y="5" width="2.4" height="2"/>
<path d="M-4 6.4 L4 6.4 Q4.9 6.5 5.1 7.5 L6.3 13.2 Q6.4 14.2 5.6 14.3 L5 14.3 Q4.5 14.3 4.3 13.6 L3.6 10.5 L3.4 14.5 L4.6 25.2 Q4.6 25.9 3.9 25.9 L2.4 25.9 Q1.8 25.9 1.7 25.3 L0 18.6 L-1.7 25.3 Q-1.8 25.9 -2.4 25.9 L-3.9 25.9 Q-4.6 25.9 -4.6 25.2 L-3.4 14.5 L-3.6 10.5 L-4.3 13.6 Q-4.5 14.3 -5 14.3 L-5.6 14.3 Q-6.4 14.2 -6.3 13.2 L-5.1 7.5 Q-4.9 6.5 -4 6.4 Z"/></g></g>
<g transform="translate(445.60,478.40) scale(1.000)" fill="#9b4c8e"><g><rect x="-1.8" y="0" width="3.6" height="2.8" rx="1"/>
<ellipse cx="0" cy="2.6" rx="3.7" ry="0.9"/>
<circle cx="0" cy="3.9" r="2.0"/>
<rect x="-1.2" y="5" width="2.4" height="2"/>
<path d="M-4 6.4 L4 6.4 Q4.9 6.5 5.1 7.5 L6.3 13.2 Q6.4 14.2 5.6 14.3 L5 14.3 Q4.5 14.3 4.3 13.6 L3.6 10.5 L3.4 14.5 L4.6 25.2 Q4.6 25.9 3.9 25.9 L2.4 25.9 Q1.8 25.9 1.7 25.3 L0 18.6 L-1.7 25.3 Q-1.8 25.9 -2.4 25.9 L-3.9 25.9 Q-4.6 25.9 -4.6 25.2 L-3.4 14.5 L-3.6 10.5 L-4.3 13.6 Q-4.5 14.3 -5 14.3 L-5.6 14.3 Q-6.4 14.2 -6.3 13.2 L-5.1 7.5 Q-4.9 6.5 -4 6.4 Z"/></g></g>
<g transform="translate(265.00,596.50) scale(0.960,1.000)" fill="#9b4c8e"><g><circle cx="0" cy="4.3" r="4.4"/>
<rect x="-1.7" y="6.5" width="3.4" height="3.5"/>
<path d="M-5.6 9.2 L5.6 9.2 Q7.4 9.4 7.8 11.2 L9.4 20 Q9.5 21.3 8.3 21.5 L7.6 21.6 Q6.6 21.6 6.4 20.4 L5.4 15 L4.6 21 L6.2 37.2 Q6.2 38.4 5 38.4 L3.2 38.4 Q2.2 38.4 2 37.4 L0 26.5 L-2 37.4 Q-2.2 38.4 -3.2 38.4 L-5 38.4 Q-6.2 38.4 -6.2 37.2 L-4.6 21 L-5.4 15 L-6.4 20.4 Q-6.6 21.6 -7.6 21.6 L-8.3 21.5 Q-9.5 21.3 -9.4 20 L-7.8 11.2 Q-7.4 9.4 -5.6 9.2 Z"/></g></g>
<g transform="translate(285.60,596.50) scale(0.960,1.000)" fill="#9b4c8e"><g><circle cx="0" cy="4.3" r="4.4"/>
<rect x="-1.7" y="6.5" width="3.4" height="3.5"/>
<path d="M-5.6 9.2 L5.6 9.2 Q7.4 9.4 7.8 11.2 L9.4 20 Q9.5 21.3 8.3 21.5 L7.6 21.6 Q6.6 21.6 6.4 20.4 L5.4 15 L4.6 21 L6.2 37.2 Q6.2 38.4 5 38.4 L3.2 38.4 Q2.2 38.4 2 37.4 L0 26.5 L-2 37.4 Q-2.2 38.4 -3.2 38.4 L-5 38.4 Q-6.2 38.4 -6.2 37.2 L-4.6 21 L-5.4 15 L-6.4 20.4 Q-6.6 21.6 -7.6 21.6 L-8.3 21.5 Q-9.5 21.3 -9.4 20 L-7.8 11.2 Q-7.4 9.4 -5.6 9.2 Z"/></g></g>
<g transform="translate(306.20,596.50) scale(0.960,1.000)" fill="#9b4c8e"><g><circle cx="0" cy="4.3" r="4.4"/>
<rect x="-1.7" y="6.5" width="3.4" height="3.5"/>
<path d="M-5.6 9.2 L5.6 9.2 Q7.4 9.4 7.8 11.2 L9.4 20 Q9.5 21.3 8.3 21.5 L7.6 21.6 Q6.6 21.6 6.4 20.4 L5.4 15 L4.6 21 L6.2 37.2 Q6.2 38.4 5 38.4 L3.2 38.4 Q2.2 38.4 2 37.4 L0 26.5 L-2 37.4 Q-2.2 38.4 -3.2 38.4 L-5 38.4 Q-6.2 38.4 -6.2 37.2 L-4.6 21 L-5.4 15 L-6.4 20.4 Q-6.6 21.6 -7.6 21.6 L-8.3 21.5 Q-9.5 21.3 -9.4 20 L-7.8 11.2 Q-7.4 9.4 -5.6 9.2 Z"/></g></g>
<g transform="translate(326.80,596.50) scale(0.960,1.000)" fill="#9b4c8e"><g><circle cx="0" cy="4.3" r="4.4"/>
<rect x="-1.7" y="6.5" width="3.4" height="3.5"/>
<path d="M-5.6 9.2 L5.6 9.2 Q7.4 9.4 7.8 11.2 L9.4 20 Q9.5 21.3 8.3 21.5 L7.6 21.6 Q6.6 21.6 6.4 20.4 L5.4 15 L4.6 21 L6.2 37.2 Q6.2 38.4 5 38.4 L3.2 38.4 Q2.2 38.4 2 37.4 L0 26.5 L-2 37.4 Q-2.2 38.4 -3.2 38.4 L-5 38.4 Q-6.2 38.4 -6.2 37.2 L-4.6 21 L-5.4 15 L-6.4 20.4 Q-6.6 21.6 -7.6 21.6 L-8.3 21.5 Q-9.5 21.3 -9.4 20 L-7.8 11.2 Q-7.4 9.4 -5.6 9.2 Z"/></g></g>
<g transform="translate(347.40,596.50) scale(0.960,1.000)" fill="#9b4c8e"><g><circle cx="0" cy="4.3" r="4.4"/>
<rect x="-1.7" y="6.5" width="3.4" height="3.5"/>
<path d="M-5.6 9.2 L5.6 9.2 Q7.4 9.4 7.8 11.2 L9.4 20 Q9.5 21.3 8.3 21.5 L7.6 21.6 Q6.6 21.6 6.4 20.4 L5.4 15 L4.6 21 L6.2 37.2 Q6.2 38.4 5 38.4 L3.2 38.4 Q2.2 38.4 2 37.4 L0 26.5 L-2 37.4 Q-2.2 38.4 -3.2 38.4 L-5 38.4 Q-6.2 38.4 -6.2 37.2 L-4.6 21 L-5.4 15 L-6.4 20.4 Q-6.6 21.6 -7.6 21.6 L-8.3 21.5 Q-9.5 21.3 -9.4 20 L-7.8 11.2 Q-7.4 9.4 -5.6 9.2 Z"/></g></g>
<g transform="translate(368.00,596.50) scale(0.960,1.000)" fill="#9b4c8e"><g><circle cx="0" cy="4.3" r="4.4"/>
<rect x="-1.7" y="6.5" width="3.4" height="3.5"/>
<path d="M-5.6 9.2 L5.6 9.2 Q7.4 9.4 7.8 11.2 L9.4 20 Q9.5 21.3 8.3 21.5 L7.6 21.6 Q6.6 21.6 6.4 20.4 L5.4 15 L4.6 21 L6.2 37.2 Q6.2 38.4 5 38.4 L3.2 38.4 Q2.2 38.4 2 37.4 L0 26.5 L-2 37.4 Q-2.2 38.4 -3.2 38.4 L-5 38.4 Q-6.2 38.4 -6.2 37.2 L-4.6 21 L-5.4 15 L-6.4 20.4 Q-6.6 21.6 -7.6 21.6 L-8.3 21.5 Q-9.5 21.3 -9.4 20 L-7.8 11.2 Q-7.4 9.4 -5.6 9.2 Z"/></g></g>
<g transform="translate(388.60,596.50) scale(0.960,1.000)" fill="#9b4c8e"><g><circle cx="0" cy="4.3" r="4.4"/>
<rect x="-1.7" y="6.5" width="3.4" height="3.5"/>
<path d="M-5.6 9.2 L5.6 9.2 Q7.4 9.4 7.8 11.2 L9.4 20 Q9.5 21.3 8.3 21.5 L7.6 21.6 Q6.6 21.6 6.4 20.4 L5.4 15 L4.6 21 L6.2 37.2 Q6.2 38.4 5 38.4 L3.2 38.4 Q2.2 38.4 2 37.4 L0 26.5 L-2 37.4 Q-2.2 38.4 -3.2 38.4 L-5 38.4 Q-6.2 38.4 -6.2 37.2 L-4.6 21 L-5.4 15 L-6.4 20.4 Q-6.6 21.6 -7.6 21.6 L-8.3 21.5 Q-9.5 21.3 -9.4 20 L-7.8 11.2 Q-7.4 9.4 -5.6 9.2 Z"/></g></g>
<g transform="translate(409.20,596.50) scale(0.960,1.000)" fill="#9b4c8e"><g><circle cx="0" cy="4.3" r="4.4"/>
<rect x="-1.7" y="6.5" width="3.4" height="3.5"/>
<path d="M-5.6 9.2 L5.6 9.2 Q7.4 9.4 7.8 11.2 L9.4 20 Q9.5 21.3 8.3 21.5 L7.6 21.6 Q6.6 21.6 6.4 20.4 L5.4 15 L4.6 21 L6.2 37.2 Q6.2 38.4 5 38.4 L3.2 38.4 Q2.2 38.4 2 37.4 L0 26.5 L-2 37.4 Q-2.2 38.4 -3.2 38.4 L-5 38.4 Q-6.2 38.4 -6.2 37.2 L-4.6 21 L-5.4 15 L-6.4 20.4 Q-6.6 21.6 -7.6 21.6 L-8.3 21.5 Q-9.5 21.3 -9.4 20 L-7.8 11.2 Q-7.4 9.4 -5.6 9.2 Z"/></g></g>
<g transform="translate(429.80,596.50) scale(0.960,1.000)" fill="#9b4c8e"><g><circle cx="0" cy="4.3" r="4.4"/>
<rect x="-1.7" y="6.5" width="3.4" height="3.5"/>
<path d="M-5.6 9.2 L5.6 9.2 Q7.4 9.4 7.8 11.2 L9.4 20 Q9.5 21.3 8.3 21.5 L7.6 21.6 Q6.6 21.6 6.4 20.4 L5.4 15 L4.6 21 L6.2 37.2 Q6.2 38.4 5 38.4 L3.2 38.4 Q2.2 38.4 2 37.4 L0 26.5 L-2 37.4 Q-2.2 38.4 -3.2 38.4 L-5 38.4 Q-6.2 38.4 -6.2 37.2 L-4.6 21 L-5.4 15 L-6.4 20.4 Q-6.6 21.6 -7.6 21.6 L-8.3 21.5 Q-9.5 21.3 -9.4 20 L-7.8 11.2 Q-7.4 9.4 -5.6 9.2 Z"/></g></g>
<g transform="translate(448.10,609.60) scale(1.000)" fill="#9b4c8e"><g><rect x="-1.8" y="0" width="3.6" height="2.8" rx="1"/>
<ellipse cx="0" cy="2.6" rx="3.7" ry="0.9"/>
<circle cx="0" cy="3.9" r="2.0"/>
<rect x="-1.2" y="5" width="2.4" height="2"/>
<path d="M-4 6.4 L4 6.4 Q4.9 6.5 5.1 7.5 L6.3 13.2 Q6.4 14.2 5.6 14.3 L5 14.3 Q4.5 14.3 4.3 13.6 L3.6 10.5 L3.4 14.5 L4.6 25.2 Q4.6 25.9 3.9 25.9 L2.4 25.9 Q1.8 25.9 1.7 25.3 L0 18.6 L-1.7 25.3 Q-1.8 25.9 -2.4 25.9 L-3.9 25.9 Q-4.6 25.9 -4.6 25.2 L-3.4 14.5 L-3.6 10.5 L-4.3 13.6 Q-4.5 14.3 -5 14.3 L-5.6 14.3 Q-6.4 14.2 -6.3 13.2 L-5.1 7.5 Q-4.9 6.5 -4 6.4 Z"/></g></g>
<g transform="translate(461.40,609.60) scale(1.000)" fill="#9b4c8e"><g clip-path="url(#lefthalf)"><rect x="-1.8" y="0" width="3.6" height="2.8" rx="1"/>
<ellipse cx="0" cy="2.6" rx="3.7" ry="0.9"/>
<circle cx="0" cy="3.9" r="2.0"/>
<rect x="-1.2" y="5" width="2.4" height="2"/>
<path d="M-4 6.4 L4 6.4 Q4.9 6.5 5.1 7.5 L6.3 13.2 Q6.4 14.2 5.6 14.3 L5 14.3 Q4.5 14.3 4.3 13.6 L3.6 10.5 L3.4 14.5 L4.6 25.2 Q4.6 25.9 3.9 25.9 L2.4 25.9 Q1.8 25.9 1.7 25.3 L0 18.6 L-1.7 25.3 Q-1.8 25.9 -2.4 25.9 L-3.9 25.9 Q-4.6 25.9 -4.6 25.2 L-3.4 14.5 L-3.6 10.5 L-4.3 13.6 Q-4.5 14.3 -5 14.3 L-5.6 14.3 Q-6.4 14.2 -6.3 13.2 L-5.1 7.5 Q-4.9 6.5 -4 6.4 Z"/></g></g>
<g transform="translate(568.60,564.50) scale(0.989,1.030)" fill="#9b4c8e"><g><circle cx="0" cy="4.3" r="4.4"/>
<rect x="-1.7" y="6.5" width="3.4" height="3.5"/>
<path d="M-5.6 9.2 L5.6 9.2 Q7.4 9.4 7.8 11.2 L9.4 20 Q9.5 21.3 8.3 21.5 L7.6 21.6 Q6.6 21.6 6.4 20.4 L5.4 15 L4.6 21 L6.2 37.2 Q6.2 38.4 5 38.4 L3.2 38.4 Q2.2 38.4 2 37.4 L0 26.5 L-2 37.4 Q-2.2 38.4 -3.2 38.4 L-5 38.4 Q-6.2 38.4 -6.2 37.2 L-4.6 21 L-5.4 15 L-6.4 20.4 Q-6.6 21.6 -7.6 21.6 L-8.3 21.5 Q-9.5 21.3 -9.4 20 L-7.8 11.2 Q-7.4 9.4 -5.6 9.2 Z"/></g></g>
<g transform="translate(568.60,623.90) scale(0.930)" fill="#9b4c8e"><g><rect x="-1.8" y="0" width="3.6" height="2.8" rx="1"/>
<ellipse cx="0" cy="2.6" rx="3.7" ry="0.9"/>
<circle cx="0" cy="3.9" r="2.0"/>
<rect x="-1.2" y="5" width="2.4" height="2"/>
<path d="M-4 6.4 L4 6.4 Q4.9 6.5 5.1 7.5 L6.3 13.2 Q6.4 14.2 5.6 14.3 L5 14.3 Q4.5 14.3 4.3 13.6 L3.6 10.5 L3.4 14.5 L4.6 25.2 Q4.6 25.9 3.9 25.9 L2.4 25.9 Q1.8 25.9 1.7 25.3 L0 18.6 L-1.7 25.3 Q-1.8 25.9 -2.4 25.9 L-3.9 25.9 Q-4.6 25.9 -4.6 25.2 L-3.4 14.5 L-3.6 10.5 L-4.3 13.6 Q-4.5 14.3 -5 14.3 L-5.6 14.3 Q-6.4 14.2 -6.3 13.2 L-5.1 7.5 Q-4.9 6.5 -4 6.4 Z"/></g></g>
<text x="583.50" y="591.80" font-size="19.5" stroke="#2e2a1e" stroke-width="0.35" textLength="159.70" lengthAdjust="spacingAndGlyphs">= 100 volwassenen</text>
<text x="583.50" y="640.40" font-size="19.5" stroke="#2e2a1e" stroke-width="0.35" textLength="127.70" lengthAdjust="spacingAndGlyphs">= 100 kinderen</text>
<text x="98.20" y="699.60" font-size="19.5" stroke="#2e2a1e" stroke-width="0.35" textLength="456.70" lengthAdjust="spacingAndGlyphs">Hoeveel bezoekers gingen er in totaal in de bobslee?</text>
<text x="98.20" y="732.40" font-size="19.5" stroke="#2e2a1e" stroke-width="0.35" textLength="506.70" lengthAdjust="spacingAndGlyphs">In welke attractie gingen meer kinderen dan volwassenen?</text>
<text x="98.20" y="764.40" font-size="19.5" stroke="#2e2a1e" stroke-width="0.35" textLength="441.10" lengthAdjust="spacingAndGlyphs">Welke attractie had in totaal de meeste bezoekers?</text>
<line x1="639.00" y1="698.80" x2="895.30" y2="698.80" stroke="#8a8a86" stroke-width="1.1"/>
<line x1="639.00" y1="733.20" x2="895.30" y2="733.20" stroke="#8a8a86" stroke-width="1.1"/>
<line x1="639.00" y1="765.20" x2="895.30" y2="765.20" stroke="#8a8a86" stroke-width="1.1"/>
<text x="98.10" y="830.80" font-size="19" fill="#4b6994" stroke="#4b6994" stroke-width="0.5" textLength="334.40" lengthAdjust="spacingAndGlyphs">Lees de staafgrafiek af. Vul de tabel in.</text>
<text x="280.10" y="881.00" font-size="19.5" fill="#13a06d" stroke="#13a06d" stroke-width="0.35" textLength="431.40" lengthAdjust="spacingAndGlyphs">Aantal buitenlandse gasten op camping Duinhoek</text>
<rect x="181.80" y="1178.90" width="48.00" height="61.40" fill="#2b5797"/>
<rect x="229.80" y="1178.90" width="47.50" height="61.40" fill="#9a639d"/>
<rect x="315.10" y="1056.10" width="46.80" height="184.20" fill="#2b5797"/>
<rect x="361.90" y="1117.50" width="47.60" height="122.80" fill="#9a639d"/>
<rect x="447.70" y="1086.80" width="47.30" height="153.50" fill="#2b5797"/>
<rect x="495.00" y="964.00" width="47.10" height="276.30" fill="#9a639d"/>
<line x1="159.60" y1="1178.90" x2="566.50" y2="1178.90" stroke="#93908a" stroke-width="1.4"/>
<line x1="159.60" y1="1117.50" x2="566.50" y2="1117.50" stroke="#93908a" stroke-width="1.4"/>
<line x1="159.60" y1="1056.10" x2="566.50" y2="1056.10" stroke="#93908a" stroke-width="1.4"/>
<line x1="159.60" y1="994.70" x2="566.50" y2="994.70" stroke="#93908a" stroke-width="1.4"/>
<line x1="159.60" y1="933.30" x2="566.50" y2="933.30" stroke="#93908a" stroke-width="1.4"/>
<line x1="159.60" y1="932.60" x2="159.60" y2="1241.20" stroke="#3a3528" stroke-width="1.8"/>
<line x1="158.70" y1="1240.30" x2="566.50" y2="1240.30" stroke="#3a3528" stroke-width="1.8"/>
<text x="148.60" y="941.00" font-size="16.5" text-anchor="end" stroke="#2e2a1e" stroke-width="0.35">10</text>
<text x="148.60" y="1002.00" font-size="16.5" text-anchor="end" stroke="#2e2a1e" stroke-width="0.35">8</text>
<text x="148.60" y="1063.30" font-size="16.5" text-anchor="end" stroke="#2e2a1e" stroke-width="0.35">6</text>
<text x="148.60" y="1124.90" font-size="16.5" text-anchor="end" stroke="#2e2a1e" stroke-width="0.35">4</text>
<text x="148.60" y="1185.70" font-size="16.5" text-anchor="end" stroke="#2e2a1e" stroke-width="0.35">2</text>
<text x="148.60" y="1243.10" font-size="16.5" text-anchor="end" stroke="#2e2a1e" stroke-width="0.35">0</text>
<g transform="translate(112.2,1184.6) rotate(-90)"><text x="0" y="0" font-size="19" textLength="117" lengthAdjust="spacingAndGlyphs">aantal gasten</text></g>
<line x1="106.90" y1="1060.50" x2="106.90" y2="1010.00" stroke="#2e2a1e" stroke-width="1.3"/>
<path d="M106.9 1000.8 L110.2 1012.5 L103.6 1012.5 Z" fill="#2e2a1e"/>
<text x="192.00" y="1264.90" font-size="19.5" stroke="#2e2a1e" stroke-width="0.35" textLength="75.70" lengthAdjust="spacingAndGlyphs">Frankrijk</text>
<text x="335.80" y="1264.90" font-size="19.5" stroke="#2e2a1e" stroke-width="0.35" textLength="53.60" lengthAdjust="spacingAndGlyphs">België</text>
<text x="454.60" y="1264.90" font-size="19.5" stroke="#2e2a1e" stroke-width="0.35" textLength="80.40" lengthAdjust="spacingAndGlyphs">Engeland</text>
<text x="173.00" y="1296.60" font-size="19.5" stroke="#2e2a1e" stroke-width="0.35" textLength="291.00" lengthAdjust="spacingAndGlyphs">land waar gasten vandaan komen</text>
<line x1="469.80" y1="1293.00" x2="518.00" y2="1293.00" stroke="#2e2a1e" stroke-width="1.3"/>
<path d="M527 1293 L515.5 1289.7 L515.5 1296.3 Z" fill="#2e2a1e"/>
<rect x="591.50" y="1189.50" width="20.00" height="19.50" fill="#2b5797"/>
<rect x="591.50" y="1223.80" width="20.00" height="17.70" fill="#9b4f93"/>
<text x="614.00" y="1205.10" font-size="19.5" stroke="#2e2a1e" stroke-width="0.35" textLength="41.70" lengthAdjust="spacingAndGlyphs">2025</text>
<text x="614.00" y="1239.70" font-size="19.5" stroke="#2e2a1e" stroke-width="0.35" textLength="41.70" lengthAdjust="spacingAndGlyphs">2026</text>
<rect x="665.50" y="930.50" width="230.00" height="44.10" fill="#079e6e"/>
<line x1="665.50" y1="1015.50" x2="895.50" y2="1015.50" stroke="#079e6e" stroke-width="1.8"/>
<line x1="665.50" y1="1059.10" x2="895.50" y2="1059.10" stroke="#079e6e" stroke-width="1.8"/>
<line x1="761.40" y1="974.60" x2="761.40" y2="1102.80" stroke="#079e6e" stroke-width="1.8"/>
<line x1="826.40" y1="974.60" x2="826.40" y2="1102.80" stroke="#079e6e" stroke-width="1.8"/>
<line x1="761.40" y1="932.50" x2="761.40" y2="973.00" stroke="#fff" stroke-width="1.6"/>
<line x1="826.40" y1="932.50" x2="826.40" y2="973.00" stroke="#fff" stroke-width="1.6"/>
<path d="M666.4 974.6 L666.4 1101.9 L893.6 1101.9 L893.6 974.6" fill="none" stroke="#079e6e" stroke-width="1.8"/>
<text x="772.60" y="959.10" font-size="19.5" fill="#fff" font-weight="bold" textLength="42.70" lengthAdjust="spacingAndGlyphs">2025</text>
<text x="838.90" y="959.10" font-size="19.5" fill="#fff" font-weight="bold" textLength="42.20" lengthAdjust="spacingAndGlyphs">2026</text>
<text x="671.10" y="1001.80" font-size="19.5" stroke="#2e2a1e" stroke-width="0.35" textLength="75.60" lengthAdjust="spacingAndGlyphs">Frankrijk</text>
<text x="671.10" y="1044.70" font-size="19.5" stroke="#2e2a1e" stroke-width="0.35" textLength="53.20" lengthAdjust="spacingAndGlyphs">België</text>
<text x="671.10" y="1086.40" font-size="19.5" stroke="#2e2a1e" stroke-width="0.35" textLength="80.80" lengthAdjust="spacingAndGlyphs">Engeland</text>
<line x1="768.30" y1="1004.80" x2="819.80" y2="1004.80" stroke="#8a857a" stroke-width="1.4"/>
<line x1="834.80" y1="1004.80" x2="886.50" y2="1004.80" stroke="#8a857a" stroke-width="1.4"/>
<line x1="768.30" y1="1046.40" x2="819.80" y2="1046.40" stroke="#8a857a" stroke-width="1.4"/>
<line x1="834.80" y1="1046.40" x2="886.50" y2="1046.40" stroke="#8a857a" stroke-width="1.4"/>
<line x1="768.30" y1="1089.40" x2="819.80" y2="1089.40" stroke="#8a857a" stroke-width="1.4"/>
<line x1="834.80" y1="1089.40" x2="886.50" y2="1089.40" stroke="#8a857a" stroke-width="1.4"/>
<text x="1094.10" y="120.20" font-size="19" fill="#4b6994" stroke="#4b6994" stroke-width="0.5" textLength="346.30" lengthAdjust="spacingAndGlyphs">Lees de beeldgrafiek af. Geef antwoord.</text>
<text x="1094.10" y="153.90" font-size="19.5" fill="#0b86cb" stroke="#0b86cb" stroke-width="0.35" textLength="316.60" lengthAdjust="spacingAndGlyphs">Resultaten vogeltelling op 25 januari</text>
<defs>
<clipPath id="birdhalf"><rect x="-2" y="-2" width="20" height="40"/></clipPath>
</defs>
<rect x="1094.60" y="169.00" width="147.10" height="201.20" fill="#0a7ec2"/>
<line x1="1241.70" y1="220.30" x2="1617.00" y2="220.30" stroke="#1a84c6" stroke-width="2"/>
<line x1="1094.60" y1="220.30" x2="1241.70" y2="220.30" stroke="#fff" stroke-width="2"/>
<line x1="1241.70" y1="268.40" x2="1617.00" y2="268.40" stroke="#1a84c6" stroke-width="2"/>
<line x1="1094.60" y1="268.40" x2="1241.70" y2="268.40" stroke="#fff" stroke-width="2"/>
<line x1="1241.70" y1="319.40" x2="1617.00" y2="319.40" stroke="#1a84c6" stroke-width="2"/>
<line x1="1094.60" y1="319.40" x2="1241.70" y2="319.40" stroke="#fff" stroke-width="2"/>
<rect x="1094.6" y="169.8" width="521.8" height="199.6" fill="none" stroke="#1a84c6" stroke-width="1.8"/>
<text x="1103.90" y="200.90" font-size="19.5" fill="#fff" font-weight="bold" textLength="92.10" lengthAdjust="spacingAndGlyphs">Groningen</text>
<text x="1103.90" y="251.40" font-size="19.5" fill="#fff" font-weight="bold" textLength="78.10" lengthAdjust="spacingAndGlyphs">Friesland</text>
<text x="1103.90" y="300.00" font-size="19.5" fill="#fff" font-weight="bold" textLength="70.50" lengthAdjust="spacingAndGlyphs">Drenthe</text>
<text x="1103.90" y="350.70" font-size="19.5" fill="#fff" font-weight="bold" textLength="84.50" lengthAdjust="spacingAndGlyphs">Overijssel</text>
<g transform="translate(1256.00,179.80) scale(1.0)"><g><path d="M3.5 9 C3 16 6 23 13 26.3 C18 27.5 24 26 28 24 L45.5 30.6 L46 29.2 L36 21 C30 15 22 9 14 7 Z" fill="#fde0cc"/>
<path d="M11.6 7.2 C20 9.5 30 15 36 20.3 L36 20.8 L18.5 19.8 C15 18 12.5 16 11.1 12.9 Z" fill="#df7a4c"/>
<path d="M18.7 17.2 L36 20.1 L35.5 22 L21.6 20.9 Z" fill="#363a5a"/>
<g fill="#3f3652"><circle cx="12.2" cy="11.6" r="1"/><circle cx="15.3" cy="13.5" r="1"/><circle cx="17.4" cy="10.1" r="0.9"/><circle cx="19.2" cy="11.6" r="0.8"/><rect x="22.4" y="12.9" width="1.2" height="3.4"/></g>
<path d="M3.8 4.5 C4 1.5 7 0 9.5 0 C12.5 0 14.5 2.5 15.5 7.5 L11 7.6 Z" fill="#c65e4e"/>
<path d="M0.4 4 L11.1 3.5 L11.3 7.7 L7.2 7.7 L7.2 14.3 L3.8 14.3 L3.8 7.7 L0.4 7.7 Z" fill="#2a4275"/>
<path d="M9.3 32.2 C11 30.5 14 30.2 17 29.5 C18.2 28 19.8 27.4 21 28.5 C23 29 25 30 25.6 32.2 Z" fill="#ec7c48"/></g></g>
<g transform="translate(1299.00,179.80) scale(1.0)"><g><path d="M3.5 9 C3 16 6 23 13 26.3 C18 27.5 24 26 28 24 L45.5 30.6 L46 29.2 L36 21 C30 15 22 9 14 7 Z" fill="#fde0cc"/>
<path d="M11.6 7.2 C20 9.5 30 15 36 20.3 L36 20.8 L18.5 19.8 C15 18 12.5 16 11.1 12.9 Z" fill="#df7a4c"/>
<path d="M18.7 17.2 L36 20.1 L35.5 22 L21.6 20.9 Z" fill="#363a5a"/>
<g fill="#3f3652"><circle cx="12.2" cy="11.6" r="1"/><circle cx="15.3" cy="13.5" r="1"/><circle cx="17.4" cy="10.1" r="0.9"/><circle cx="19.2" cy="11.6" r="0.8"/><rect x="22.4" y="12.9" width="1.2" height="3.4"/></g>
<path d="M3.8 4.5 C4 1.5 7 0 9.5 0 C12.5 0 14.5 2.5 15.5 7.5 L11 7.6 Z" fill="#c65e4e"/>
<path d="M0.4 4 L11.1 3.5 L11.3 7.7 L7.2 7.7 L7.2 14.3 L3.8 14.3 L3.8 7.7 L0.4 7.7 Z" fill="#2a4275"/>
<path d="M9.3 32.2 C11 30.5 14 30.2 17 29.5 C18.2 28 19.8 27.4 21 28.5 C23 29 25 30 25.6 32.2 Z" fill="#ec7c48"/></g></g>
<g transform="translate(1342.00,179.80) scale(1.0)"><g><path d="M3.5 9 C3 16 6 23 13 26.3 C18 27.5 24 26 28 24 L45.5 30.6 L46 29.2 L36 21 C30 15 22 9 14 7 Z" fill="#fde0cc"/>
<path d="M11.6 7.2 C20 9.5 30 15 36 20.3 L36 20.8 L18.5 19.8 C15 18 12.5 16 11.1 12.9 Z" fill="#df7a4c"/>
<path d="M18.7 17.2 L36 20.1 L35.5 22 L21.6 20.9 Z" fill="#363a5a"/>
<g fill="#3f3652"><circle cx="12.2" cy="11.6" r="1"/><circle cx="15.3" cy="13.5" r="1"/><circle cx="17.4" cy="10.1" r="0.9"/><circle cx="19.2" cy="11.6" r="0.8"/><rect x="22.4" y="12.9" width="1.2" height="3.4"/></g>
<path d="M3.8 4.5 C4 1.5 7 0 9.5 0 C12.5 0 14.5 2.5 15.5 7.5 L11 7.6 Z" fill="#c65e4e"/>
<path d="M0.4 4 L11.1 3.5 L11.3 7.7 L7.2 7.7 L7.2 14.3 L3.8 14.3 L3.8 7.7 L0.4 7.7 Z" fill="#2a4275"/>
<path d="M9.3 32.2 C11 30.5 14 30.2 17 29.5 C18.2 28 19.8 27.4 21 28.5 C23 29 25 30 25.6 32.2 Z" fill="#ec7c48"/></g></g>
<g transform="translate(1384.30,179.80) scale(1.0)"><g clip-path="url(#birdhalf)"><path d="M3.5 9 C3 16 6 23 13 26.3 C18 27.5 24 26 28 24 L45.5 30.6 L46 29.2 L36 21 C30 15 22 9 14 7 Z" fill="#fde0cc"/>
<path d="M11.6 7.2 C20 9.5 30 15 36 20.3 L36 20.8 L18.5 19.8 C15 18 12.5 16 11.1 12.9 Z" fill="#df7a4c"/>
<path d="M18.7 17.2 L36 20.1 L35.5 22 L21.6 20.9 Z" fill="#363a5a"/>
<g fill="#3f3652"><circle cx="12.2" cy="11.6" r="1"/><circle cx="15.3" cy="13.5" r="1"/><circle cx="17.4" cy="10.1" r="0.9"/><circle cx="19.2" cy="11.6" r="0.8"/><rect x="22.4" y="12.9" width="1.2" height="3.4"/></g>
<path d="M3.8 4.5 C4 1.5 7 0 9.5 0 C12.5 0 14.5 2.5 15.5 7.5 L11 7.6 Z" fill="#c65e4e"/>
<path d="M0.4 4 L11.1 3.5 L11.3 7.7 L7.2 7.7 L7.2 14.3 L3.8 14.3 L3.8 7.7 L0.4 7.7 Z" fill="#2a4275"/>
<path d="M9.3 32.2 C11 30.5 14 30.2 17 29.5 C18.2 28 19.8 27.4 21 28.5 C23 29 25 30 25.6 32.2 Z" fill="#ec7c48"/></g></g>
<g transform="translate(1417.80,182.20) scale(1.0)"><g><path d="M11.8 3.8 C16 5 21 7.5 24.5 9.5 L20.6 10.8 L11.8 12.1 Z" fill="#b0a23e"/>
<path d="M7.6 11.3 L9.4 11.3 L11.5 14.7 L23.2 17.3 L23.2 18.1 C20 21 17 22.5 15.4 22.5 C12 22.3 9.5 21.5 8.4 20.4 C6.2 16 6.3 13 7.6 11.3 Z" fill="#f5b234"/>
<path d="M11.8 10.3 L24 9.8 L28.4 12 L28.4 16 L23.2 17.3 L11.5 14.7 Z" fill="#8287a8"/>
<path d="M22 9.6 L27 10 L26 12 L21.5 12 Z" fill="#2d3f66"/>
<path d="M25.8 12.1 L46.6 20 L46 21.3 L27 17.6 Z" fill="#22375f"/>
<path d="M3 1.2 C6 -0.2 10 0 11.8 1.8 C12.9 3.5 12.9 7 12.6 10.8 L12.2 14.8 L11.5 14.7 L9.4 11.3 L7.6 11.3 C6.3 13 6.2 16 8.4 20.4 L6 20.4 C3 17 1 12 0.5 7 C0.3 4 1 2.2 3 1.2 Z" fill="#1f3a67"/>
<ellipse cx="6.8" cy="6.8" rx="2.9" ry="1.7" transform="rotate(-20 6.8 6.8)" fill="#f6dccf"/>
<rect x="15.4" y="22.3" width="1.5" height="6.3" fill="#f6c4a2"/><rect x="18.8" y="22.3" width="1.6" height="6.3" fill="#f6c4a2"/>
<path d="M9.7 29.8 C11 28.4 14 28 17 28 C20 28 23 28.4 24.5 29.8 Z" fill="#f6c4a2"/></g></g>
<g transform="translate(1460.40,182.20) scale(1.0)"><g><path d="M11.8 3.8 C16 5 21 7.5 24.5 9.5 L20.6 10.8 L11.8 12.1 Z" fill="#b0a23e"/>
<path d="M7.6 11.3 L9.4 11.3 L11.5 14.7 L23.2 17.3 L23.2 18.1 C20 21 17 22.5 15.4 22.5 C12 22.3 9.5 21.5 8.4 20.4 C6.2 16 6.3 13 7.6 11.3 Z" fill="#f5b234"/>
<path d="M11.8 10.3 L24 9.8 L28.4 12 L28.4 16 L23.2 17.3 L11.5 14.7 Z" fill="#8287a8"/>
<path d="M22 9.6 L27 10 L26 12 L21.5 12 Z" fill="#2d3f66"/>
<path d="M25.8 12.1 L46.6 20 L46 21.3 L27 17.6 Z" fill="#22375f"/>
<path d="M3 1.2 C6 -0.2 10 0 11.8 1.8 C12.9 3.5 12.9 7 12.6 10.8 L12.2 14.8 L11.5 14.7 L9.4 11.3 L7.6 11.3 C6.3 13 6.2 16 8.4 20.4 L6 20.4 C3 17 1 12 0.5 7 C0.3 4 1 2.2 3 1.2 Z" fill="#1f3a67"/>
<ellipse cx="6.8" cy="6.8" rx="2.9" ry="1.7" transform="rotate(-20 6.8 6.8)" fill="#f6dccf"/>
<rect x="15.4" y="22.3" width="1.5" height="6.3" fill="#f6c4a2"/><rect x="18.8" y="22.3" width="1.6" height="6.3" fill="#f6c4a2"/>
<path d="M9.7 29.8 C11 28.4 14 28 17 28 C20 28 23 28.4 24.5 29.8 Z" fill="#f6c4a2"/></g></g>
<g transform="translate(1256.00,229.80) scale(1.0)"><g><path d="M3.5 9 C3 16 6 23 13 26.3 C18 27.5 24 26 28 24 L45.5 30.6 L46 29.2 L36 21 C30 15 22 9 14 7 Z" fill="#fde0cc"/>
<path d="M11.6 7.2 C20 9.5 30 15 36 20.3 L36 20.8 L18.5 19.8 C15 18 12.5 16 11.1 12.9 Z" fill="#df7a4c"/>
<path d="M18.7 17.2 L36 20.1 L35.5 22 L21.6 20.9 Z" fill="#363a5a"/>
<g fill="#3f3652"><circle cx="12.2" cy="11.6" r="1"/><circle cx="15.3" cy="13.5" r="1"/><circle cx="17.4" cy="10.1" r="0.9"/><circle cx="19.2" cy="11.6" r="0.8"/><rect x="22.4" y="12.9" width="1.2" height="3.4"/></g>
<path d="M3.8 4.5 C4 1.5 7 0 9.5 0 C12.5 0 14.5 2.5 15.5 7.5 L11 7.6 Z" fill="#c65e4e"/>
<path d="M0.4 4 L11.1 3.5 L11.3 7.7 L7.2 7.7 L7.2 14.3 L3.8 14.3 L3.8 7.7 L0.4 7.7 Z" fill="#2a4275"/>
<path d="M9.3 32.2 C11 30.5 14 30.2 17 29.5 C18.2 28 19.8 27.4 21 28.5 C23 29 25 30 25.6 32.2 Z" fill="#ec7c48"/></g></g>
<g transform="translate(1299.00,229.80) scale(1.0)"><g><path d="M3.5 9 C3 16 6 23 13 26.3 C18 27.5 24 26 28 24 L45.5 30.6 L46 29.2 L36 21 C30 15 22 9 14 7 Z" fill="#fde0cc"/>
<path d="M11.6 7.2 C20 9.5 30 15 36 20.3 L36 20.8 L18.5 19.8 C15 18 12.5 16 11.1 12.9 Z" fill="#df7a4c"/>
<path d="M18.7 17.2 L36 20.1 L35.5 22 L21.6 20.9 Z" fill="#363a5a"/>
<g fill="#3f3652"><circle cx="12.2" cy="11.6" r="1"/><circle cx="15.3" cy="13.5" r="1"/><circle cx="17.4" cy="10.1" r="0.9"/><circle cx="19.2" cy="11.6" r="0.8"/><rect x="22.4" y="12.9" width="1.2" height="3.4"/></g>
<path d="M3.8 4.5 C4 1.5 7 0 9.5 0 C12.5 0 14.5 2.5 15.5 7.5 L11 7.6 Z" fill="#c65e4e"/>
<path d="M0.4 4 L11.1 3.5 L11.3 7.7 L7.2 7.7 L7.2 14.3 L3.8 14.3 L3.8 7.7 L0.4 7.7 Z" fill="#2a4275"/>
<path d="M9.3 32.2 C11 30.5 14 30.2 17 29.5 C18.2 28 19.8 27.4 21 28.5 C23 29 25 30 25.6 32.2 Z" fill="#ec7c48"/></g></g>
<g transform="translate(1342.00,229.80) scale(1.0)"><g><path d="M3.5 9 C3 16 6 23 13 26.3 C18 27.5 24 26 28 24 L45.5 30.6 L46 29.2 L36 21 C30 15 22 9 14 7 Z" fill="#fde0cc"/>
<path d="M11.6 7.2 C20 9.5 30 15 36 20.3 L36 20.8 L18.5 19.8 C15 18 12.5 16 11.1 12.9 Z" fill="#df7a4c"/>
<path d="M18.7 17.2 L36 20.1 L35.5 22 L21.6 20.9 Z" fill="#363a5a"/>
<g fill="#3f3652"><circle cx="12.2" cy="11.6" r="1"/><circle cx="15.3" cy="13.5" r="1"/><circle cx="17.4" cy="10.1" r="0.9"/><circle cx="19.2" cy="11.6" r="0.8"/><rect x="22.4" y="12.9" width="1.2" height="3.4"/></g>
<path d="M3.8 4.5 C4 1.5 7 0 9.5 0 C12.5 0 14.5 2.5 15.5 7.5 L11 7.6 Z" fill="#c65e4e"/>
<path d="M0.4 4 L11.1 3.5 L11.3 7.7 L7.2 7.7 L7.2 14.3 L3.8 14.3 L3.8 7.7 L0.4 7.7 Z" fill="#2a4275"/>
<path d="M9.3 32.2 C11 30.5 14 30.2 17 29.5 C18.2 28 19.8 27.4 21 28.5 C23 29 25 30 25.6 32.2 Z" fill="#ec7c48"/></g></g>
<g transform="translate(1385.00,229.80) scale(1.0)"><g><path d="M3.5 9 C3 16 6 23 13 26.3 C18 27.5 24 26 28 24 L45.5 30.6 L46 29.2 L36 21 C30 15 22 9 14 7 Z" fill="#fde0cc"/>
<path d="M11.6 7.2 C20 9.5 30 15 36 20.3 L36 20.8 L18.5 19.8 C15 18 12.5 16 11.1 12.9 Z" fill="#df7a4c"/>
<path d="M18.7 17.2 L36 20.1 L35.5 22 L21.6 20.9 Z" fill="#363a5a"/>
<g fill="#3f3652"><circle cx="12.2" cy="11.6" r="1"/><circle cx="15.3" cy="13.5" r="1"/><circle cx="17.4" cy="10.1" r="0.9"/><circle cx="19.2" cy="11.6" r="0.8"/><rect x="22.4" y="12.9" width="1.2" height="3.4"/></g>
<path d="M3.8 4.5 C4 1.5 7 0 9.5 0 C12.5 0 14.5 2.5 15.5 7.5 L11 7.6 Z" fill="#c65e4e"/>
<path d="M0.4 4 L11.1 3.5 L11.3 7.7 L7.2 7.7 L7.2 14.3 L3.8 14.3 L3.8 7.7 L0.4 7.7 Z" fill="#2a4275"/>
<path d="M9.3 32.2 C11 30.5 14 30.2 17 29.5 C18.2 28 19.8 27.4 21 28.5 C23 29 25 30 25.6 32.2 Z" fill="#ec7c48"/></g></g>
<g transform="translate(1427.50,229.80) scale(1.0)"><g clip-path="url(#birdhalf)"><path d="M3.5 9 C3 16 6 23 13 26.3 C18 27.5 24 26 28 24 L45.5 30.6 L46 29.2 L36 21 C30 15 22 9 14 7 Z" fill="#fde0cc"/>
<path d="M11.6 7.2 C20 9.5 30 15 36 20.3 L36 20.8 L18.5 19.8 C15 18 12.5 16 11.1 12.9 Z" fill="#df7a4c"/>
<path d="M18.7 17.2 L36 20.1 L35.5 22 L21.6 20.9 Z" fill="#363a5a"/>
<g fill="#3f3652"><circle cx="12.2" cy="11.6" r="1"/><circle cx="15.3" cy="13.5" r="1"/><circle cx="17.4" cy="10.1" r="0.9"/><circle cx="19.2" cy="11.6" r="0.8"/><rect x="22.4" y="12.9" width="1.2" height="3.4"/></g>
<path d="M3.8 4.5 C4 1.5 7 0 9.5 0 C12.5 0 14.5 2.5 15.5 7.5 L11 7.6 Z" fill="#c65e4e"/>
<path d="M0.4 4 L11.1 3.5 L11.3 7.7 L7.2 7.7 L7.2 14.3 L3.8 14.3 L3.8 7.7 L0.4 7.7 Z" fill="#2a4275"/>
<path d="M9.3 32.2 C11 30.5 14 30.2 17 29.5 C18.2 28 19.8 27.4 21 28.5 C23 29 25 30 25.6 32.2 Z" fill="#ec7c48"/></g></g>
<g transform="translate(1461.20,232.20) scale(1.0)"><g><path d="M11.8 3.8 C16 5 21 7.5 24.5 9.5 L20.6 10.8 L11.8 12.1 Z" fill="#b0a23e"/>
<path d="M7.6 11.3 L9.4 11.3 L11.5 14.7 L23.2 17.3 L23.2 18.1 C20 21 17 22.5 15.4 22.5 C12 22.3 9.5 21.5 8.4 20.4 C6.2 16 6.3 13 7.6 11.3 Z" fill="#f5b234"/>
<path d="M11.8 10.3 L24 9.8 L28.4 12 L28.4 16 L23.2 17.3 L11.5 14.7 Z" fill="#8287a8"/>
<path d="M22 9.6 L27 10 L26 12 L21.5 12 Z" fill="#2d3f66"/>
<path d="M25.8 12.1 L46.6 20 L46 21.3 L27 17.6 Z" fill="#22375f"/>
<path d="M3 1.2 C6 -0.2 10 0 11.8 1.8 C12.9 3.5 12.9 7 12.6 10.8 L12.2 14.8 L11.5 14.7 L9.4 11.3 L7.6 11.3 C6.3 13 6.2 16 8.4 20.4 L6 20.4 C3 17 1 12 0.5 7 C0.3 4 1 2.2 3 1.2 Z" fill="#1f3a67"/>
<ellipse cx="6.8" cy="6.8" rx="2.9" ry="1.7" transform="rotate(-20 6.8 6.8)" fill="#f6dccf"/>
<rect x="15.4" y="22.3" width="1.5" height="6.3" fill="#f6c4a2"/><rect x="18.8" y="22.3" width="1.6" height="6.3" fill="#f6c4a2"/>
<path d="M9.7 29.8 C11 28.4 14 28 17 28 C20 28 23 28.4 24.5 29.8 Z" fill="#f6c4a2"/></g></g>
<g transform="translate(1503.60,232.20) scale(1.0)"><g><path d="M11.8 3.8 C16 5 21 7.5 24.5 9.5 L20.6 10.8 L11.8 12.1 Z" fill="#b0a23e"/>
<path d="M7.6 11.3 L9.4 11.3 L11.5 14.7 L23.2 17.3 L23.2 18.1 C20 21 17 22.5 15.4 22.5 C12 22.3 9.5 21.5 8.4 20.4 C6.2 16 6.3 13 7.6 11.3 Z" fill="#f5b234"/>
<path d="M11.8 10.3 L24 9.8 L28.4 12 L28.4 16 L23.2 17.3 L11.5 14.7 Z" fill="#8287a8"/>
<path d="M22 9.6 L27 10 L26 12 L21.5 12 Z" fill="#2d3f66"/>
<path d="M25.8 12.1 L46.6 20 L46 21.3 L27 17.6 Z" fill="#22375f"/>
<path d="M3 1.2 C6 -0.2 10 0 11.8 1.8 C12.9 3.5 12.9 7 12.6 10.8 L12.2 14.8 L11.5 14.7 L9.4 11.3 L7.6 11.3 C6.3 13 6.2 16 8.4 20.4 L6 20.4 C3 17 1 12 0.5 7 C0.3 4 1 2.2 3 1.2 Z" fill="#1f3a67"/>
<ellipse cx="6.8" cy="6.8" rx="2.9" ry="1.7" transform="rotate(-20 6.8 6.8)" fill="#f6dccf"/>
<rect x="15.4" y="22.3" width="1.5" height="6.3" fill="#f6c4a2"/><rect x="18.8" y="22.3" width="1.6" height="6.3" fill="#f6c4a2"/>
<path d="M9.7 29.8 C11 28.4 14 28 17 28 C20 28 23 28.4 24.5 29.8 Z" fill="#f6c4a2"/></g></g>
<g transform="translate(1546.30,232.20) scale(1.0)"><g clip-path="url(#birdhalf)"><path d="M11.8 3.8 C16 5 21 7.5 24.5 9.5 L20.6 10.8 L11.8 12.1 Z" fill="#b0a23e"/>
<path d="M7.6 11.3 L9.4 11.3 L11.5 14.7 L23.2 17.3 L23.2 18.1 C20 21 17 22.5 15.4 22.5 C12 22.3 9.5 21.5 8.4 20.4 C6.2 16 6.3 13 7.6 11.3 Z" fill="#f5b234"/>
<path d="M11.8 10.3 L24 9.8 L28.4 12 L28.4 16 L23.2 17.3 L11.5 14.7 Z" fill="#8287a8"/>
<path d="M22 9.6 L27 10 L26 12 L21.5 12 Z" fill="#2d3f66"/>
<path d="M25.8 12.1 L46.6 20 L46 21.3 L27 17.6 Z" fill="#22375f"/>
<path d="M3 1.2 C6 -0.2 10 0 11.8 1.8 C12.9 3.5 12.9 7 12.6 10.8 L12.2 14.8 L11.5 14.7 L9.4 11.3 L7.6 11.3 C6.3 13 6.2 16 8.4 20.4 L6 20.4 C3 17 1 12 0.5 7 C0.3 4 1 2.2 3 1.2 Z" fill="#1f3a67"/>
<ellipse cx="6.8" cy="6.8" rx="2.9" ry="1.7" transform="rotate(-20 6.8 6.8)" fill="#f6dccf"/>
<rect x="15.4" y="22.3" width="1.5" height="6.3" fill="#f6c4a2"/><rect x="18.8" y="22.3" width="1.6" height="6.3" fill="#f6c4a2"/>
<path d="M9.7 29.8 C11 28.4 14 28 17 28 C20 28 23 28.4 24.5 29.8 Z" fill="#f6c4a2"/></g></g>
<g transform="translate(1256.00,279.70) scale(1.0)"><g><path d="M3.5 9 C3 16 6 23 13 26.3 C18 27.5 24 26 28 24 L45.5 30.6 L46 29.2 L36 21 C30 15 22 9 14 7 Z" fill="#fde0cc"/>
<path d="M11.6 7.2 C20 9.5 30 15 36 20.3 L36 20.8 L18.5 19.8 C15 18 12.5 16 11.1 12.9 Z" fill="#df7a4c"/>
<path d="M18.7 17.2 L36 20.1 L35.5 22 L21.6 20.9 Z" fill="#363a5a"/>
<g fill="#3f3652"><circle cx="12.2" cy="11.6" r="1"/><circle cx="15.3" cy="13.5" r="1"/><circle cx="17.4" cy="10.1" r="0.9"/><circle cx="19.2" cy="11.6" r="0.8"/><rect x="22.4" y="12.9" width="1.2" height="3.4"/></g>
<path d="M3.8 4.5 C4 1.5 7 0 9.5 0 C12.5 0 14.5 2.5 15.5 7.5 L11 7.6 Z" fill="#c65e4e"/>
<path d="M0.4 4 L11.1 3.5 L11.3 7.7 L7.2 7.7 L7.2 14.3 L3.8 14.3 L3.8 7.7 L0.4 7.7 Z" fill="#2a4275"/>
<path d="M9.3 32.2 C11 30.5 14 30.2 17 29.5 C18.2 28 19.8 27.4 21 28.5 C23 29 25 30 25.6 32.2 Z" fill="#ec7c48"/></g></g>
<g transform="translate(1299.00,279.70) scale(1.0)"><g><path d="M3.5 9 C3 16 6 23 13 26.3 C18 27.5 24 26 28 24 L45.5 30.6 L46 29.2 L36 21 C30 15 22 9 14 7 Z" fill="#fde0cc"/>
<path d="M11.6 7.2 C20 9.5 30 15 36 20.3 L36 20.8 L18.5 19.8 C15 18 12.5 16 11.1 12.9 Z" fill="#df7a4c"/>
<path d="M18.7 17.2 L36 20.1 L35.5 22 L21.6 20.9 Z" fill="#363a5a"/>
<g fill="#3f3652"><circle cx="12.2" cy="11.6" r="1"/><circle cx="15.3" cy="13.5" r="1"/><circle cx="17.4" cy="10.1" r="0.9"/><circle cx="19.2" cy="11.6" r="0.8"/><rect x="22.4" y="12.9" width="1.2" height="3.4"/></g>
<path d="M3.8 4.5 C4 1.5 7 0 9.5 0 C12.5 0 14.5 2.5 15.5 7.5 L11 7.6 Z" fill="#c65e4e"/>
<path d="M0.4 4 L11.1 3.5 L11.3 7.7 L7.2 7.7 L7.2 14.3 L3.8 14.3 L3.8 7.7 L0.4 7.7 Z" fill="#2a4275"/>
<path d="M9.3 32.2 C11 30.5 14 30.2 17 29.5 C18.2 28 19.8 27.4 21 28.5 C23 29 25 30 25.6 32.2 Z" fill="#ec7c48"/></g></g>
<g transform="translate(1342.00,279.70) scale(1.0)"><g><path d="M3.5 9 C3 16 6 23 13 26.3 C18 27.5 24 26 28 24 L45.5 30.6 L46 29.2 L36 21 C30 15 22 9 14 7 Z" fill="#fde0cc"/>
<path d="M11.6 7.2 C20 9.5 30 15 36 20.3 L36 20.8 L18.5 19.8 C15 18 12.5 16 11.1 12.9 Z" fill="#df7a4c"/>
<path d="M18.7 17.2 L36 20.1 L35.5 22 L21.6 20.9 Z" fill="#363a5a"/>
<g fill="#3f3652"><circle cx="12.2" cy="11.6" r="1"/><circle cx="15.3" cy="13.5" r="1"/><circle cx="17.4" cy="10.1" r="0.9"/><circle cx="19.2" cy="11.6" r="0.8"/><rect x="22.4" y="12.9" width="1.2" height="3.4"/></g>
<path d="M3.8 4.5 C4 1.5 7 0 9.5 0 C12.5 0 14.5 2.5 15.5 7.5 L11 7.6 Z" fill="#c65e4e"/>
<path d="M0.4 4 L11.1 3.5 L11.3 7.7 L7.2 7.7 L7.2 14.3 L3.8 14.3 L3.8 7.7 L0.4 7.7 Z" fill="#2a4275"/>
<path d="M9.3 32.2 C11 30.5 14 30.2 17 29.5 C18.2 28 19.8 27.4 21 28.5 C23 29 25 30 25.6 32.2 Z" fill="#ec7c48"/></g></g>
<g transform="translate(1385.00,279.70) scale(1.0)"><g><path d="M3.5 9 C3 16 6 23 13 26.3 C18 27.5 24 26 28 24 L45.5 30.6 L46 29.2 L36 21 C30 15 22 9 14 7 Z" fill="#fde0cc"/>
<path d="M11.6 7.2 C20 9.5 30 15 36 20.3 L36 20.8 L18.5 19.8 C15 18 12.5 16 11.1 12.9 Z" fill="#df7a4c"/>
<path d="M18.7 17.2 L36 20.1 L35.5 22 L21.6 20.9 Z" fill="#363a5a"/>
<g fill="#3f3652"><circle cx="12.2" cy="11.6" r="1"/><circle cx="15.3" cy="13.5" r="1"/><circle cx="17.4" cy="10.1" r="0.9"/><circle cx="19.2" cy="11.6" r="0.8"/><rect x="22.4" y="12.9" width="1.2" height="3.4"/></g>
<path d="M3.8 4.5 C4 1.5 7 0 9.5 0 C12.5 0 14.5 2.5 15.5 7.5 L11 7.6 Z" fill="#c65e4e"/>
<path d="M0.4 4 L11.1 3.5 L11.3 7.7 L7.2 7.7 L7.2 14.3 L3.8 14.3 L3.8 7.7 L0.4 7.7 Z" fill="#2a4275"/>
<path d="M9.3 32.2 C11 30.5 14 30.2 17 29.5 C18.2 28 19.8 27.4 21 28.5 C23 29 25 30 25.6 32.2 Z" fill="#ec7c48"/></g></g>
<g transform="translate(1429.40,282.10) scale(1.0)"><g><path d="M11.8 3.8 C16 5 21 7.5 24.5 9.5 L20.6 10.8 L11.8 12.1 Z" fill="#b0a23e"/>
<path d="M7.6 11.3 L9.4 11.3 L11.5 14.7 L23.2 17.3 L23.2 18.1 C20 21 17 22.5 15.4 22.5 C12 22.3 9.5 21.5 8.4 20.4 C6.2 16 6.3 13 7.6 11.3 Z" fill="#f5b234"/>
<path d="M11.8 10.3 L24 9.8 L28.4 12 L28.4 16 L23.2 17.3 L11.5 14.7 Z" fill="#8287a8"/>
<path d="M22 9.6 L27 10 L26 12 L21.5 12 Z" fill="#2d3f66"/>
<path d="M25.8 12.1 L46.6 20 L46 21.3 L27 17.6 Z" fill="#22375f"/>
<path d="M3 1.2 C6 -0.2 10 0 11.8 1.8 C12.9 3.5 12.9 7 12.6 10.8 L12.2 14.8 L11.5 14.7 L9.4 11.3 L7.6 11.3 C6.3 13 6.2 16 8.4 20.4 L6 20.4 C3 17 1 12 0.5 7 C0.3 4 1 2.2 3 1.2 Z" fill="#1f3a67"/>
<ellipse cx="6.8" cy="6.8" rx="2.9" ry="1.7" transform="rotate(-20 6.8 6.8)" fill="#f6dccf"/>
<rect x="15.4" y="22.3" width="1.5" height="6.3" fill="#f6c4a2"/><rect x="18.8" y="22.3" width="1.6" height="6.3" fill="#f6c4a2"/>
<path d="M9.7 29.8 C11 28.4 14 28 17 28 C20 28 23 28.4 24.5 29.8 Z" fill="#f6c4a2"/></g></g>
<g transform="translate(1472.00,282.10) scale(1.0)"><g><path d="M11.8 3.8 C16 5 21 7.5 24.5 9.5 L20.6 10.8 L11.8 12.1 Z" fill="#b0a23e"/>
<path d="M7.6 11.3 L9.4 11.3 L11.5 14.7 L23.2 17.3 L23.2 18.1 C20 21 17 22.5 15.4 22.5 C12 22.3 9.5 21.5 8.4 20.4 C6.2 16 6.3 13 7.6 11.3 Z" fill="#f5b234"/>
<path d="M11.8 10.3 L24 9.8 L28.4 12 L28.4 16 L23.2 17.3 L11.5 14.7 Z" fill="#8287a8"/>
<path d="M22 9.6 L27 10 L26 12 L21.5 12 Z" fill="#2d3f66"/>
<path d="M25.8 12.1 L46.6 20 L46 21.3 L27 17.6 Z" fill="#22375f"/>
<path d="M3 1.2 C6 -0.2 10 0 11.8 1.8 C12.9 3.5 12.9 7 12.6 10.8 L12.2 14.8 L11.5 14.7 L9.4 11.3 L7.6 11.3 C6.3 13 6.2 16 8.4 20.4 L6 20.4 C3 17 1 12 0.5 7 C0.3 4 1 2.2 3 1.2 Z" fill="#1f3a67"/>
<ellipse cx="6.8" cy="6.8" rx="2.9" ry="1.7" transform="rotate(-20 6.8 6.8)" fill="#f6dccf"/>
<rect x="15.4" y="22.3" width="1.5" height="6.3" fill="#f6c4a2"/><rect x="18.8" y="22.3" width="1.6" height="6.3" fill="#f6c4a2"/>
<path d="M9.7 29.8 C11 28.4 14 28 17 28 C20 28 23 28.4 24.5 29.8 Z" fill="#f6c4a2"/></g></g>
<g transform="translate(1256.00,329.70) scale(1.0)"><g><path d="M3.5 9 C3 16 6 23 13 26.3 C18 27.5 24 26 28 24 L45.5 30.6 L46 29.2 L36 21 C30 15 22 9 14 7 Z" fill="#fde0cc"/>
<path d="M11.6 7.2 C20 9.5 30 15 36 20.3 L36 20.8 L18.5 19.8 C15 18 12.5 16 11.1 12.9 Z" fill="#df7a4c"/>
<path d="M18.7 17.2 L36 20.1 L35.5 22 L21.6 20.9 Z" fill="#363a5a"/>
<g fill="#3f3652"><circle cx="12.2" cy="11.6" r="1"/><circle cx="15.3" cy="13.5" r="1"/><circle cx="17.4" cy="10.1" r="0.9"/><circle cx="19.2" cy="11.6" r="0.8"/><rect x="22.4" y="12.9" width="1.2" height="3.4"/></g>
<path d="M3.8 4.5 C4 1.5 7 0 9.5 0 C12.5 0 14.5 2.5 15.5 7.5 L11 7.6 Z" fill="#c65e4e"/>
<path d="M0.4 4 L11.1 3.5 L11.3 7.7 L7.2 7.7 L7.2 14.3 L3.8 14.3 L3.8 7.7 L0.4 7.7 Z" fill="#2a4275"/>
<path d="M9.3 32.2 C11 30.5 14 30.2 17 29.5 C18.2 28 19.8 27.4 21 28.5 C23 29 25 30 25.6 32.2 Z" fill="#ec7c48"/></g></g>
<g transform="translate(1299.00,329.70) scale(1.0)"><g><path d="M3.5 9 C3 16 6 23 13 26.3 C18 27.5 24 26 28 24 L45.5 30.6 L46 29.2 L36 21 C30 15 22 9 14 7 Z" fill="#fde0cc"/>
<path d="M11.6 7.2 C20 9.5 30 15 36 20.3 L36 20.8 L18.5 19.8 C15 18 12.5 16 11.1 12.9 Z" fill="#df7a4c"/>
<path d="M18.7 17.2 L36 20.1 L35.5 22 L21.6 20.9 Z" fill="#363a5a"/>
<g fill="#3f3652"><circle cx="12.2" cy="11.6" r="1"/><circle cx="15.3" cy="13.5" r="1"/><circle cx="17.4" cy="10.1" r="0.9"/><circle cx="19.2" cy="11.6" r="0.8"/><rect x="22.4" y="12.9" width="1.2" height="3.4"/></g>
<path d="M3.8 4.5 C4 1.5 7 0 9.5 0 C12.5 0 14.5 2.5 15.5 7.5 L11 7.6 Z" fill="#c65e4e"/>
<path d="M0.4 4 L11.1 3.5 L11.3 7.7 L7.2 7.7 L7.2 14.3 L3.8 14.3 L3.8 7.7 L0.4 7.7 Z" fill="#2a4275"/>
<path d="M9.3 32.2 C11 30.5 14 30.2 17 29.5 C18.2 28 19.8 27.4 21 28.5 C23 29 25 30 25.6 32.2 Z" fill="#ec7c48"/></g></g>
<g transform="translate(1342.00,329.70) scale(1.0)"><g><path d="M3.5 9 C3 16 6 23 13 26.3 C18 27.5 24 26 28 24 L45.5 30.6 L46 29.2 L36 21 C30 15 22 9 14 7 Z" fill="#fde0cc"/>
<path d="M11.6 7.2 C20 9.5 30 15 36 20.3 L36 20.8 L18.5 19.8 C15 18 12.5 16 11.1 12.9 Z" fill="#df7a4c"/>
<path d="M18.7 17.2 L36 20.1 L35.5 22 L21.6 20.9 Z" fill="#363a5a"/>
<g fill="#3f3652"><circle cx="12.2" cy="11.6" r="1"/><circle cx="15.3" cy="13.5" r="1"/><circle cx="17.4" cy="10.1" r="0.9"/><circle cx="19.2" cy="11.6" r="0.8"/><rect x="22.4" y="12.9" width="1.2" height="3.4"/></g>
<path d="M3.8 4.5 C4 1.5 7 0 9.5 0 C12.5 0 14.5 2.5 15.5 7.5 L11 7.6 Z" fill="#c65e4e"/>
<path d="M0.4 4 L11.1 3.5 L11.3 7.7 L7.2 7.7 L7.2 14.3 L3.8 14.3 L3.8 7.7 L0.4 7.7 Z" fill="#2a4275"/>
<path d="M9.3 32.2 C11 30.5 14 30.2 17 29.5 C18.2 28 19.8 27.4 21 28.5 C23 29 25 30 25.6 32.2 Z" fill="#ec7c48"/></g></g>
<g transform="translate(1385.00,329.70) scale(1.0)"><g><path d="M3.5 9 C3 16 6 23 13 26.3 C18 27.5 24 26 28 24 L45.5 30.6 L46 29.2 L36 21 C30 15 22 9 14 7 Z" fill="#fde0cc"/>
<path d="M11.6 7.2 C20 9.5 30 15 36 20.3 L36 20.8 L18.5 19.8 C15 18 12.5 16 11.1 12.9 Z" fill="#df7a4c"/>
<path d="M18.7 17.2 L36 20.1 L35.5 22 L21.6 20.9 Z" fill="#363a5a"/>
<g fill="#3f3652"><circle cx="12.2" cy="11.6" r="1"/><circle cx="15.3" cy="13.5" r="1"/><circle cx="17.4" cy="10.1" r="0.9"/><circle cx="19.2" cy="11.6" r="0.8"/><rect x="22.4" y="12.9" width="1.2" height="3.4"/></g>
<path d="M3.8 4.5 C4 1.5 7 0 9.5 0 C12.5 0 14.5 2.5 15.5 7.5 L11 7.6 Z" fill="#c65e4e"/>
<path d="M0.4 4 L11.1 3.5 L11.3 7.7 L7.2 7.7 L7.2 14.3 L3.8 14.3 L3.8 7.7 L0.4 7.7 Z" fill="#2a4275"/>
<path d="M9.3 32.2 C11 30.5 14 30.2 17 29.5 C18.2 28 19.8 27.4 21 28.5 C23 29 25 30 25.6 32.2 Z" fill="#ec7c48"/></g></g>
<g transform="translate(1428.00,329.70) scale(1.0)"><g><path d="M3.5 9 C3 16 6 23 13 26.3 C18 27.5 24 26 28 24 L45.5 30.6 L46 29.2 L36 21 C30 15 22 9 14 7 Z" fill="#fde0cc"/>
<path d="M11.6 7.2 C20 9.5 30 15 36 20.3 L36 20.8 L18.5 19.8 C15 18 12.5 16 11.1 12.9 Z" fill="#df7a4c"/>
<path d="M18.7 17.2 L36 20.1 L35.5 22 L21.6 20.9 Z" fill="#363a5a"/>
<g fill="#3f3652"><circle cx="12.2" cy="11.6" r="1"/><circle cx="15.3" cy="13.5" r="1"/><circle cx="17.4" cy="10.1" r="0.9"/><circle cx="19.2" cy="11.6" r="0.8"/><rect x="22.4" y="12.9" width="1.2" height="3.4"/></g>
<path d="M3.8 4.5 C4 1.5 7 0 9.5 0 C12.5 0 14.5 2.5 15.5 7.5 L11 7.6 Z" fill="#c65e4e"/>
<path d="M0.4 4 L11.1 3.5 L11.3 7.7 L7.2 7.7 L7.2 14.3 L3.8 14.3 L3.8 7.7 L0.4 7.7 Z" fill="#2a4275"/>
<path d="M9.3 32.2 C11 30.5 14 30.2 17 29.5 C18.2 28 19.8 27.4 21 28.5 C23 29 25 30 25.6 32.2 Z" fill="#ec7c48"/></g></g>
<g transform="translate(1474.70,332.10) scale(1.0)"><g><path d="M11.8 3.8 C16 5 21 7.5 24.5 9.5 L20.6 10.8 L11.8 12.1 Z" fill="#b0a23e"/>
<path d="M7.6 11.3 L9.4 11.3 L11.5 14.7 L23.2 17.3 L23.2 18.1 C20 21 17 22.5 15.4 22.5 C12 22.3 9.5 21.5 8.4 20.4 C6.2 16 6.3 13 7.6 11.3 Z" fill="#f5b234"/>
<path d="M11.8 10.3 L24 9.8 L28.4 12 L28.4 16 L23.2 17.3 L11.5 14.7 Z" fill="#8287a8"/>
<path d="M22 9.6 L27 10 L26 12 L21.5 12 Z" fill="#2d3f66"/>
<path d="M25.8 12.1 L46.6 20 L46 21.3 L27 17.6 Z" fill="#22375f"/>
<path d="M3 1.2 C6 -0.2 10 0 11.8 1.8 C12.9 3.5 12.9 7 12.6 10.8 L12.2 14.8 L11.5 14.7 L9.4 11.3 L7.6 11.3 C6.3 13 6.2 16 8.4 20.4 L6 20.4 C3 17 1 12 0.5 7 C0.3 4 1 2.2 3 1.2 Z" fill="#1f3a67"/>
<ellipse cx="6.8" cy="6.8" rx="2.9" ry="1.7" transform="rotate(-20 6.8 6.8)" fill="#f6dccf"/>
<rect x="15.4" y="22.3" width="1.5" height="6.3" fill="#f6c4a2"/><rect x="18.8" y="22.3" width="1.6" height="6.3" fill="#f6c4a2"/>
<path d="M9.7 29.8 C11 28.4 14 28 17 28 C20 28 23 28.4 24.5 29.8 Z" fill="#f6c4a2"/></g></g>
<g transform="translate(1517.90,332.10) scale(1.0)"><g><path d="M11.8 3.8 C16 5 21 7.5 24.5 9.5 L20.6 10.8 L11.8 12.1 Z" fill="#b0a23e"/>
<path d="M7.6 11.3 L9.4 11.3 L11.5 14.7 L23.2 17.3 L23.2 18.1 C20 21 17 22.5 15.4 22.5 C12 22.3 9.5 21.5 8.4 20.4 C6.2 16 6.3 13 7.6 11.3 Z" fill="#f5b234"/>
<path d="M11.8 10.3 L24 9.8 L28.4 12 L28.4 16 L23.2 17.3 L11.5 14.7 Z" fill="#8287a8"/>
<path d="M22 9.6 L27 10 L26 12 L21.5 12 Z" fill="#2d3f66"/>
<path d="M25.8 12.1 L46.6 20 L46 21.3 L27 17.6 Z" fill="#22375f"/>
<path d="M3 1.2 C6 -0.2 10 0 11.8 1.8 C12.9 3.5 12.9 7 12.6 10.8 L12.2 14.8 L11.5 14.7 L9.4 11.3 L7.6 11.3 C6.3 13 6.2 16 8.4 20.4 L6 20.4 C3 17 1 12 0.5 7 C0.3 4 1 2.2 3 1.2 Z" fill="#1f3a67"/>
<ellipse cx="6.8" cy="6.8" rx="2.9" ry="1.7" transform="rotate(-20 6.8 6.8)" fill="#f6dccf"/>
<rect x="15.4" y="22.3" width="1.5" height="6.3" fill="#f6c4a2"/><rect x="18.8" y="22.3" width="1.6" height="6.3" fill="#f6c4a2"/>
<path d="M9.7 29.8 C11 28.4 14 28 17 28 C20 28 23 28.4 24.5 29.8 Z" fill="#f6c4a2"/></g></g>
<g transform="translate(1560.30,332.10) scale(1.0)"><g><path d="M11.8 3.8 C16 5 21 7.5 24.5 9.5 L20.6 10.8 L11.8 12.1 Z" fill="#b0a23e"/>
<path d="M7.6 11.3 L9.4 11.3 L11.5 14.7 L23.2 17.3 L23.2 18.1 C20 21 17 22.5 15.4 22.5 C12 22.3 9.5 21.5 8.4 20.4 C6.2 16 6.3 13 7.6 11.3 Z" fill="#f5b234"/>
<path d="M11.8 10.3 L24 9.8 L28.4 12 L28.4 16 L23.2 17.3 L11.5 14.7 Z" fill="#8287a8"/>
<path d="M22 9.6 L27 10 L26 12 L21.5 12 Z" fill="#2d3f66"/>
<path d="M25.8 12.1 L46.6 20 L46 21.3 L27 17.6 Z" fill="#22375f"/>
<path d="M3 1.2 C6 -0.2 10 0 11.8 1.8 C12.9 3.5 12.9 7 12.6 10.8 L12.2 14.8 L11.5 14.7 L9.4 11.3 L7.6 11.3 C6.3 13 6.2 16 8.4 20.4 L6 20.4 C3 17 1 12 0.5 7 C0.3 4 1 2.2 3 1.2 Z" fill="#1f3a67"/>
<ellipse cx="6.8" cy="6.8" rx="2.9" ry="1.7" transform="rotate(-20 6.8 6.8)" fill="#f6dccf"/>
<rect x="15.4" y="22.3" width="1.5" height="6.3" fill="#f6c4a2"/><rect x="18.8" y="22.3" width="1.6" height="6.3" fill="#f6c4a2"/>
<path d="M9.7 29.8 C11 28.4 14 28 17 28 C20 28 23 28.4 24.5 29.8 Z" fill="#f6c4a2"/></g></g>
<g transform="translate(1639.50,278.80) scale(1.0)"><g><path d="M3.5 9 C3 16 6 23 13 26.3 C18 27.5 24 26 28 24 L45.5 30.6 L46 29.2 L36 21 C30 15 22 9 14 7 Z" fill="#fde0cc"/>
<path d="M11.6 7.2 C20 9.5 30 15 36 20.3 L36 20.8 L18.5 19.8 C15 18 12.5 16 11.1 12.9 Z" fill="#df7a4c"/>
<path d="M18.7 17.2 L36 20.1 L35.5 22 L21.6 20.9 Z" fill="#363a5a"/>
<g fill="#3f3652"><circle cx="12.2" cy="11.6" r="1"/><circle cx="15.3" cy="13.5" r="1"/><circle cx="17.4" cy="10.1" r="0.9"/><circle cx="19.2" cy="11.6" r="0.8"/><rect x="22.4" y="12.9" width="1.2" height="3.4"/></g>
<path d="M3.8 4.5 C4 1.5 7 0 9.5 0 C12.5 0 14.5 2.5 15.5 7.5 L11 7.6 Z" fill="#c65e4e"/>
<path d="M0.4 4 L11.1 3.5 L11.3 7.7 L7.2 7.7 L7.2 14.3 L3.8 14.3 L3.8 7.7 L0.4 7.7 Z" fill="#2a4275"/>
<path d="M9.3 32.2 C11 30.5 14 30.2 17 29.5 C18.2 28 19.8 27.4 21 28.5 C23 29 25 30 25.6 32.2 Z" fill="#ec7c48"/></g></g>
<g transform="translate(1641.50,340.20) scale(1.0)"><g><path d="M11.8 3.8 C16 5 21 7.5 24.5 9.5 L20.6 10.8 L11.8 12.1 Z" fill="#b0a23e"/>
<path d="M7.6 11.3 L9.4 11.3 L11.5 14.7 L23.2 17.3 L23.2 18.1 C20 21 17 22.5 15.4 22.5 C12 22.3 9.5 21.5 8.4 20.4 C6.2 16 6.3 13 7.6 11.3 Z" fill="#f5b234"/>
<path d="M11.8 10.3 L24 9.8 L28.4 12 L28.4 16 L23.2 17.3 L11.5 14.7 Z" fill="#8287a8"/>
<path d="M22 9.6 L27 10 L26 12 L21.5 12 Z" fill="#2d3f66"/>
<path d="M25.8 12.1 L46.6 20 L46 21.3 L27 17.6 Z" fill="#22375f"/>
<path d="M3 1.2 C6 -0.2 10 0 11.8 1.8 C12.9 3.5 12.9 7 12.6 10.8 L12.2 14.8 L11.5 14.7 L9.4 11.3 L7.6 11.3 C6.3 13 6.2 16 8.4 20.4 L6 20.4 C3 17 1 12 0.5 7 C0.3 4 1 2.2 3 1.2 Z" fill="#1f3a67"/>
<ellipse cx="6.8" cy="6.8" rx="2.9" ry="1.7" transform="rotate(-20 6.8 6.8)" fill="#f6dccf"/>
<rect x="15.4" y="22.3" width="1.5" height="6.3" fill="#f6c4a2"/><rect x="18.8" y="22.3" width="1.6" height="6.3" fill="#f6c4a2"/>
<path d="M9.7 29.8 C11 28.4 14 28 17 28 C20 28 23 28.4 24.5 29.8 Z" fill="#f6c4a2"/></g></g>
<text x="1687.80" y="303.80" font-size="19.5" stroke="#2e2a1e" stroke-width="0.35" textLength="160.50" lengthAdjust="spacingAndGlyphs">= 2000 huismussen</text>
<text x="1687.80" y="361.10" font-size="19.5" stroke="#2e2a1e" stroke-width="0.35" textLength="156.90" lengthAdjust="spacingAndGlyphs">= 2000 koolmezen</text>
<text x="1094.00" y="402.30" font-size="19.5" stroke="#2e2a1e" stroke-width="0.35" textLength="391.60" lengthAdjust="spacingAndGlyphs">Welk aantal vogels hoort bij een halve vogel?</text>
<text x="1094.00" y="434.70" font-size="19.5" stroke="#2e2a1e" stroke-width="0.35" textLength="400.90" lengthAdjust="spacingAndGlyphs">Hoeveel koolmezen zijn er geteld in Friesland?</text>
<text x="1094.00" y="469.10" font-size="19.5" stroke="#2e2a1e" stroke-width="0.35" textLength="453.60" lengthAdjust="spacingAndGlyphs">In welke provincie zijn de minste huismussen geteld?</text>
<text x="1094.00" y="501.50" font-size="19.5" stroke="#2e2a1e" stroke-width="0.35" textLength="413.90" lengthAdjust="spacingAndGlyphs">In welke provincie zijn de meeste vogels geteld?</text>
<line x1="1701.60" y1="403.50" x2="1832.00" y2="403.50" stroke="#8a8a86" stroke-width="1.1"/>
<text x="1835.60" y="402.30" font-size="19.5" stroke="#2e2a1e" stroke-width="0.35" textLength="55.10" lengthAdjust="spacingAndGlyphs">vogels</text>
<line x1="1701.60" y1="435.90" x2="1790.70" y2="435.90" stroke="#8a8a86" stroke-width="1.1"/>
<text x="1794.60" y="434.70" font-size="19.5" stroke="#2e2a1e" stroke-width="0.35" textLength="96.10" lengthAdjust="spacingAndGlyphs">koolmezen</text>
<line x1="1701.60" y1="468.30" x2="1890.00" y2="468.30" stroke="#8a8a86" stroke-width="1.1"/>
<line x1="1701.60" y1="501.50" x2="1890.00" y2="501.50" stroke="#8a8a86" stroke-width="1.1"/>
<text x="1094.00" y="568.40" font-size="19" fill="#4b6994" stroke="#4b6994" stroke-width="0.5" textLength="509.20" lengthAdjust="spacingAndGlyphs">Bekijk de tabel. Maak de staafgrafiek af en geef antwoord.</text>
<text x="1094.10" y="600.50" font-size="19.5" fill="#13a06d" stroke="#13a06d" stroke-width="0.35" textLength="168.00" lengthAdjust="spacingAndGlyphs">Favoriete soort film</text>
<rect x="1095.40" y="617.60" width="388.60" height="31.00" fill="#079e6e"/>
<line x1="1095.40" y1="679.40" x2="1484.00" y2="679.40" stroke="#079e6e" stroke-width="1.8"/>
<line x1="1095.40" y1="709.60" x2="1484.00" y2="709.60" stroke="#079e6e" stroke-width="1.8"/>
<line x1="1095.40" y1="740.60" x2="1484.00" y2="740.60" stroke="#079e6e" stroke-width="1.8"/>
<line x1="1095.40" y1="771.40" x2="1484.00" y2="771.40" stroke="#079e6e" stroke-width="1.8"/>
<line x1="1226.60" y1="648.60" x2="1226.60" y2="801.40" stroke="#079e6e" stroke-width="1.8"/>
<line x1="1354.40" y1="648.60" x2="1354.40" y2="801.40" stroke="#079e6e" stroke-width="1.8"/>
<line x1="1226.60" y1="619.50" x2="1226.60" y2="647.50" stroke="#fff" stroke-width="1.6"/>
<line x1="1354.40" y1="619.50" x2="1354.40" y2="647.50" stroke="#fff" stroke-width="1.6"/>
<path d="M1096.3 648.6 L1096.3 800.5 L1482.4 800.5 L1482.4 648.6" fill="none" stroke="#079e6e" stroke-width="1.8"/>
<text x="1233.20" y="640.40" font-size="18.5" fill="#fff" font-weight="bold" textLength="115.00" lengthAdjust="spacingAndGlyphs">middenbouw</text>
<text x="1366.70" y="640.40" font-size="18.5" fill="#fff" font-weight="bold" textLength="104.50" lengthAdjust="spacingAndGlyphs">bovenbouw</text>
<text x="1098.70" y="670.60" font-size="18" stroke="#2e2a1e" stroke-width="0.35" textLength="68.00" lengthAdjust="spacingAndGlyphs">comedy</text>
<text x="1279.60" y="670.60" font-size="18" stroke="#2e2a1e" stroke-width="0.35" textLength="21.60" lengthAdjust="spacingAndGlyphs">29</text>
<text x="1407.70" y="670.60" font-size="18" stroke="#2e2a1e" stroke-width="0.35" textLength="21.60" lengthAdjust="spacingAndGlyphs">14</text>
<text x="1098.70" y="701.60" font-size="18" stroke="#2e2a1e" stroke-width="0.35" textLength="84.00" lengthAdjust="spacingAndGlyphs">tekenfilm</text>
<text x="1279.60" y="701.60" font-size="18" stroke="#2e2a1e" stroke-width="0.35" textLength="21.60" lengthAdjust="spacingAndGlyphs">25</text>
<text x="1407.70" y="701.60" font-size="18" stroke="#2e2a1e" stroke-width="0.35" textLength="21.60" lengthAdjust="spacingAndGlyphs">35</text>
<text x="1098.70" y="732.00" font-size="18" stroke="#2e2a1e" stroke-width="0.35" textLength="75.60" lengthAdjust="spacingAndGlyphs">actiefilm</text>
<text x="1279.60" y="732.00" font-size="18" stroke="#2e2a1e" stroke-width="0.35" textLength="21.60" lengthAdjust="spacingAndGlyphs">16</text>
<text x="1407.70" y="732.00" font-size="18" stroke="#2e2a1e" stroke-width="0.35" textLength="21.60" lengthAdjust="spacingAndGlyphs">37</text>
<text x="1098.70" y="762.60" font-size="18" stroke="#2e2a1e" stroke-width="0.35" textLength="93.60" lengthAdjust="spacingAndGlyphs">familiefilm</text>
<text x="1279.60" y="762.60" font-size="18" stroke="#2e2a1e" stroke-width="0.35" textLength="21.60" lengthAdjust="spacingAndGlyphs">31</text>
<text x="1407.70" y="762.60" font-size="18" stroke="#2e2a1e" stroke-width="0.35" textLength="21.60" lengthAdjust="spacingAndGlyphs">23</text>
<text x="1098.70" y="793.00" font-size="18" stroke="#2e2a1e" stroke-width="0.35" textLength="121.00" lengthAdjust="spacingAndGlyphs">science fiction</text>
<text x="1279.60" y="793.00" font-size="18" stroke="#2e2a1e" stroke-width="0.35" textLength="21.60" lengthAdjust="spacingAndGlyphs">18</text>
<text x="1407.70" y="793.00" font-size="18" stroke="#2e2a1e" stroke-width="0.35" textLength="21.60" lengthAdjust="spacingAndGlyphs">11</text>
<rect x="1215.10" y="962.80" width="39.60" height="67.70" fill="#ef8325"/>
<rect x="1276.30" y="911.60" width="37.70" height="118.90" fill="#3aa6dc"/>
<rect x="1314.00" y="864.80" width="39.60" height="165.70" fill="#ef8325"/>
<rect x="1375.20" y="953.70" width="39.60" height="76.80" fill="#3aa6dc"/>
<rect x="1476.00" y="881.70" width="38.80" height="148.80" fill="#3aa6dc"/>
<rect x="1514.80" y="919.60" width="38.70" height="110.90" fill="#ef8325"/>
<rect x="1575.10" y="944.80" width="39.60" height="85.70" fill="#3aa6dc"/>
<rect x="1614.70" y="977.20" width="37.70" height="53.30" fill="#ef8325"/>
<line x1="1154.80" y1="840.80" x2="1676.00" y2="840.80" stroke="#93908a" stroke-width="1.4"/>
<line x1="1154.80" y1="864.40" x2="1676.00" y2="864.40" stroke="#93908a" stroke-width="1.4"/>
<line x1="1154.80" y1="887.90" x2="1676.00" y2="887.90" stroke="#93908a" stroke-width="1.4"/>
<line x1="1154.80" y1="911.20" x2="1676.00" y2="911.20" stroke="#93908a" stroke-width="1.4"/>
<line x1="1154.80" y1="934.50" x2="1676.00" y2="934.50" stroke="#93908a" stroke-width="1.4"/>
<line x1="1154.80" y1="958.00" x2="1676.00" y2="958.00" stroke="#93908a" stroke-width="1.4"/>
<line x1="1154.80" y1="982.70" x2="1676.00" y2="982.70" stroke="#93908a" stroke-width="1.4"/>
<line x1="1154.80" y1="1006.70" x2="1676.00" y2="1006.70" stroke="#93908a" stroke-width="1.4"/>
<line x1="1154.80" y1="840.30" x2="1154.80" y2="1031.40" stroke="#3a3528" stroke-width="1.8"/>
<line x1="1153.90" y1="1030.50" x2="1676.00" y2="1030.50" stroke="#3a3528" stroke-width="1.8"/>
<text x="1145.20" y="843.50" font-size="18.5" text-anchor="end" stroke="#2e2a1e" stroke-width="0.35">40</text>
<text x="1145.20" y="871.00" font-size="18.5" text-anchor="end" stroke="#2e2a1e" stroke-width="0.35">35</text>
<text x="1145.20" y="894.60" font-size="18.5" text-anchor="end" stroke="#2e2a1e" stroke-width="0.35">30</text>
<text x="1145.20" y="917.90" font-size="18.5" text-anchor="end" stroke="#2e2a1e" stroke-width="0.35">25</text>
<text x="1145.20" y="942.90" font-size="18.5" text-anchor="end" stroke="#2e2a1e" stroke-width="0.35">20</text>
<text x="1145.20" y="966.40" font-size="18.5" text-anchor="end" stroke="#2e2a1e" stroke-width="0.35">15</text>
<text x="1145.20" y="989.90" font-size="18.5" text-anchor="end" stroke="#2e2a1e" stroke-width="0.35">10</text>
<text x="1145.20" y="1012.70" font-size="18.5" text-anchor="end" stroke="#2e2a1e" stroke-width="0.35">5</text>
<text x="1145.20" y="1039.60" font-size="18.5" text-anchor="end" stroke="#2e2a1e" stroke-width="0.35">0</text>
<g transform="translate(1106.8,1041.3) rotate(-90)"><text x="0" y="0" font-size="19" textLength="144" lengthAdjust="spacingAndGlyphs">aantal kinderenn</text></g>
<line x1="1102.50" y1="889.00" x2="1102.50" y2="840.00" stroke="#2e2a1e" stroke-width="1.3"/>
<path d="M1102.5 830.6 L1105.8 842.3 L1099.2 842.3 Z" fill="#2e2a1e"/>
<text x="1181.60" y="1052.50" font-size="19.2" stroke="#2e2a1e" stroke-width="0.35" textLength="68.10" lengthAdjust="spacingAndGlyphs">comedy</text>
<text x="1273.40" y="1052.50" font-size="19.2" stroke="#2e2a1e" stroke-width="0.35" textLength="83.60" lengthAdjust="spacingAndGlyphs">tekenfilm</text>
<text x="1377.40" y="1052.50" font-size="19.2" stroke="#2e2a1e" stroke-width="0.35" textLength="74.50" lengthAdjust="spacingAndGlyphs">actiefilm</text>
<text x="1481.30" y="1052.50" font-size="19.2" stroke="#2e2a1e" stroke-width="0.35" textLength="65.40" lengthAdjust="spacingAndGlyphs">familie-</text>
<text x="1497.00" y="1078.60" font-size="19.2" stroke="#2e2a1e" stroke-width="0.35" textLength="34.60" lengthAdjust="spacingAndGlyphs">film</text>
<text x="1583.10" y="1052.50" font-size="19.2" stroke="#2e2a1e" stroke-width="0.35" textLength="61.30" lengthAdjust="spacingAndGlyphs">science</text>
<text x="1586.40" y="1078.60" font-size="19.2" stroke="#2e2a1e" stroke-width="0.35" textLength="54.40" lengthAdjust="spacingAndGlyphs">fiction</text>
<text x="1304.50" y="1090.10" font-size="19.2" stroke="#2e2a1e" stroke-width="0.35" textLength="99.20" lengthAdjust="spacingAndGlyphs">filmsoorten</text>
<line x1="1415.40" y1="1086.80" x2="1464.00" y2="1086.80" stroke="#2e2a1e" stroke-width="1.3"/>
<path d="M1473.2 1086.8 L1461.7 1083.5 L1461.7 1090.1 Z" fill="#2e2a1e"/>
<rect x="1706.60" y="979.00" width="17.80" height="17.90" fill="#3aa6dc"/>
<rect x="1706.60" y="1013.30" width="17.80" height="17.60" fill="#ef8325"/>
<text x="1728.40" y="994.90" font-size="19.5" stroke="#2e2a1e" stroke-width="0.35" textLength="114.90" lengthAdjust="spacingAndGlyphs">middenbouw</text>
<text x="1728.40" y="1029.00" font-size="19.5" stroke="#2e2a1e" stroke-width="0.35" textLength="103.50" lengthAdjust="spacingAndGlyphs">bovenbouw</text>
<text x="1094.00" y="1131.30" font-size="19.5" stroke="#2e2a1e" stroke-width="0.35" textLength="598.20" lengthAdjust="spacingAndGlyphs">Welke soort film is favoriet bij de meeste kinderen in de bovenbouw?</text>
<text x="1094.00" y="1163.70" font-size="19.5" stroke="#2e2a1e" stroke-width="0.35" textLength="601.00" lengthAdjust="spacingAndGlyphs">Welke soort film is favoriet bij de meeste kinderen in de middenbouw</text>
<text x="1094.00" y="1190.90" font-size="19.5" stroke="#2e2a1e" stroke-width="0.35" textLength="199.20" lengthAdjust="spacingAndGlyphs">en bovenbouw samen?</text>
<text x="1094.00" y="1230.60" font-size="19.5" stroke="#2e2a1e" stroke-width="0.35" textLength="494.10" lengthAdjust="spacingAndGlyphs">Wat is de minst favoriete soort film van de kinderen in de</text>
<text x="1094.00" y="1257.70" font-size="19.5" stroke="#2e2a1e" stroke-width="0.35" textLength="318.70" lengthAdjust="spacingAndGlyphs">middenbouw en bovenbouw samen?</text>
<text x="1094.00" y="1297.40" font-size="19.5" stroke="#2e2a1e" stroke-width="0.35" textLength="517.10" lengthAdjust="spacingAndGlyphs">Bij welke soort film is het verschil tussen de middenbouw en</text>
<text x="1094.00" y="1323.70" font-size="19.5" stroke="#2e2a1e" stroke-width="0.35" textLength="213.40" lengthAdjust="spacingAndGlyphs">bovenbouw het grootst?</text>
<line x1="1696.30" y1="1132.50" x2="1891.10" y2="1132.50" stroke="#8a8a86" stroke-width="1.1"/>
<line x1="1696.30" y1="1191.30" x2="1891.10" y2="1191.30" stroke="#8a8a86" stroke-width="1.1"/>
<line x1="1696.30" y1="1258.10" x2="1891.10" y2="1258.10" stroke="#8a8a86" stroke-width="1.1"/>
<line x1="1696.30" y1="1324.90" x2="1891.10" y2="1324.90" stroke="#8a8a86" stroke-width="1.1"/>
</svg>
</body></html>
